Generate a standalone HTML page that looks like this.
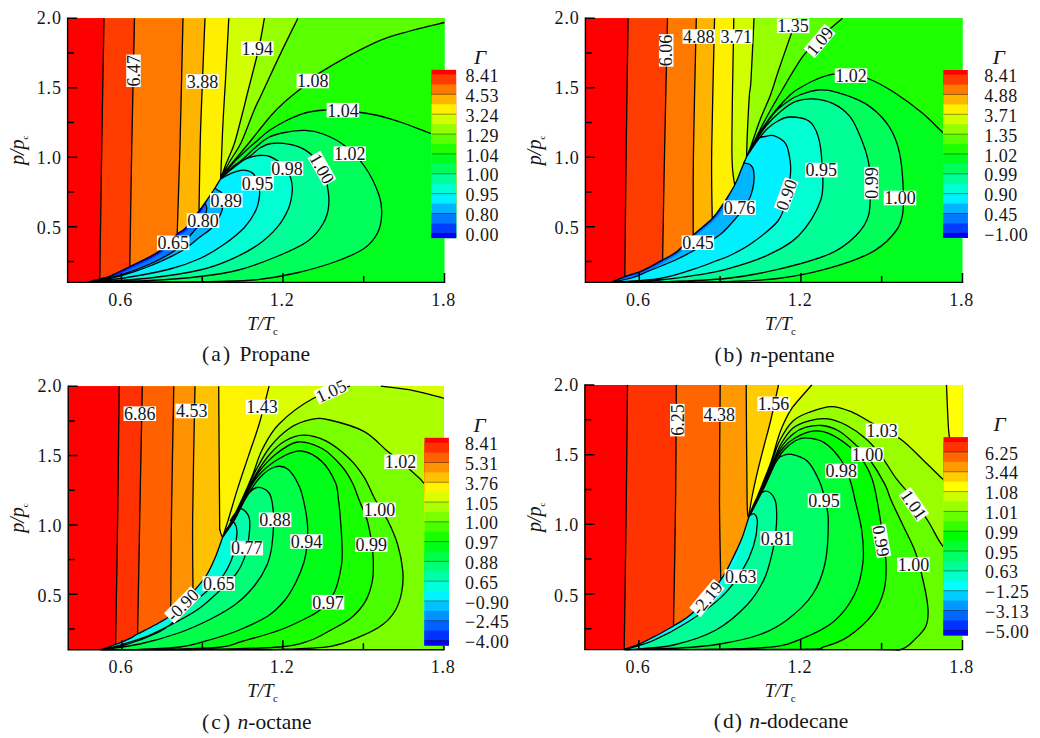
<!DOCTYPE html>
<html><head><meta charset="utf-8"><style>
html,body{margin:0;padding:0;background:#fff;}
svg{display:block;}
text{font-family:"Liberation Serif", serif;fill:#151515;}
</style></head><body>
<svg width="1040" height="738" viewBox="0 0 1040 738">
<g>
<rect x="67.6" y="18.2" width="376.9" height="264.2" fill="rgb(0,255,30)"/>
<path d="M67.6 18.2L444.5 18.2L444.5 137.5C442.25 136.83 438.42 136.08 431 133.5C423.58 130.92 409.27 125.08 400 122C390.73 118.92 385.4 117 375.4 115C365.4 113 348.4 110.83 340 110C331.6 109.17 330.83 109.5 325 110C319.17 110.5 311.25 111.33 305 113C298.75 114.67 293.33 117.17 287.5 120C281.67 122.83 275.2 126.42 270 130C264.8 133.58 260.3 138.08 256.3 141.5C252.3 144.92 249.38 147.42 246 150.5C242.62 153.58 239.08 156.75 236 160C232.92 163.25 230.08 166.83 227.5 170C224.92 173.17 221.67 177.5 220.5 179C219.58 180.5 216.92 185 215 188C213.08 191 211.67 193.17 209 197C206.33 200.83 202.9 205.85 199 211C195.1 216.15 189.23 224.07 185.6 227.9C181.97 231.73 181.67 230.07 177.2 234C172.73 237.93 166.7 246.08 158.8 251.5C150.9 256.92 137.93 262.4 129.8 266.5C121.67 270.6 115 274.02 110 276.1C105 278.18 103.7 277.95 99.8 279C95.9 280.05 88.8 281.83 86.6 282.4L67.6 282.4Z" fill="rgb(30,255,0)"/>
<path d="M67.6 18.2L444.5 18.2L444.5 22.5C438.75 23.92 421.58 27.65 410 31C398.42 34.35 390 35.67 375 42.6C360 49.53 332.28 65 320 72.6C307.72 80.2 306.83 83.63 301.3 88.2C295.77 92.77 291.77 95.53 286.8 100C281.83 104.47 277.75 107.92 271.5 115C265.25 122.08 255.25 135.21 249.3 142.5C243.35 149.79 239.6 154.17 235.8 158.75C232 163.33 229.05 166.62 226.5 170C223.95 173.38 221.5 177.5 220.5 179C219.58 180.5 216.92 185 215 188C213.08 191 211.67 193.17 209 197C206.33 200.83 202.9 205.85 199 211C195.1 216.15 189.23 224.07 185.6 227.9C181.97 231.73 181.67 230.07 177.2 234C172.73 237.93 166.7 246.08 158.8 251.5C150.9 256.92 137.93 262.4 129.8 266.5C121.67 270.6 115 274.02 110 276.1C105 278.18 103.7 277.95 99.8 279C95.9 280.05 88.8 281.83 86.6 282.4L67.6 282.4Z" fill="rgb(90,255,0)"/>
<path d="M67.6 18.2L297.9 18.2C294.85 24.43 285.71 42.8 279.6 55.6C273.49 68.4 265.48 85.93 261.25 95C257.02 104.07 257.54 102.08 254.2 110C250.86 117.92 245 134.38 241.2 142.5C237.4 150.62 234.02 154.33 231.4 158.75C228.78 163.17 227.32 165.62 225.5 169C223.68 172.38 221.33 177.33 220.5 179C219.58 180.5 216.92 185 215 188C213.08 191 211.67 193.17 209 197C206.33 200.83 202.9 205.85 199 211C195.1 216.15 189.23 224.07 185.6 227.9C181.97 231.73 181.67 230.07 177.2 234C172.73 237.93 166.7 246.08 158.8 251.5C150.9 256.92 137.93 262.4 129.8 266.5C121.67 270.6 115 274.02 110 276.1C105 278.18 103.7 277.95 99.8 279C95.9 280.05 88.8 281.83 86.6 282.4L67.6 282.4Z" fill="rgb(150,255,0)"/>
<path d="M67.6 18.2L264.4 18.2C263.43 23.33 261.5 36.2 258.6 49C255.7 61.8 249.55 84.83 247 95C244.45 105.17 245.35 102.08 243.3 110C241.25 117.92 237.22 134.38 234.7 142.5C232.18 150.62 229.9 154.5 228.2 158.75C226.5 163 225.78 164.62 224.5 168C223.22 171.38 221.17 177.17 220.5 179C219.58 180.5 216.92 185 215 188C213.08 191 211.67 193.17 209 197C206.33 200.83 202.9 205.85 199 211C195.1 216.15 189.23 224.07 185.6 227.9C181.97 231.73 181.67 230.07 177.2 234C172.73 237.93 166.7 246.08 158.8 251.5C150.9 256.92 137.93 262.4 129.8 266.5C121.67 270.6 115 274.02 110 276.1C105 278.18 103.7 277.95 99.8 279C95.9 280.05 88.8 281.83 86.6 282.4L67.6 282.4Z" fill="rgb(210,255,0)"/>
<path d="M67.6 18.2L228.8 18.2C228.25 28.5 226.4 63.87 225.5 80C224.6 96.13 223.95 105 223.4 115C222.85 125 222.6 130.83 222.2 140C221.8 149.17 221.28 163.5 221 170C220.72 176.5 220.58 177.5 220.5 179C219.58 180.5 216.92 185 215 188C213.08 191 211.67 193.17 209 197C206.33 200.83 202.9 205.85 199 211C195.1 216.15 189.23 224.07 185.6 227.9C181.97 231.73 181.67 230.07 177.2 234C172.73 237.93 166.7 246.08 158.8 251.5C150.9 256.92 137.93 262.4 129.8 266.5C121.67 270.6 115 274.02 110 276.1C105 278.18 103.7 277.95 99.8 279C95.9 280.05 88.8 281.83 86.6 282.4L67.6 282.4Z" fill="rgb(255,240,0)"/>
<path d="M67.6 18.2L205 18.2C204.58 28.5 203.28 59.7 202.5 80C201.72 100.3 200.88 118.17 200.3 140C199.72 161.83 199.22 199.17 199 211C195.1 216.15 189.23 224.07 185.6 227.9C181.97 231.73 181.67 230.07 177.2 234C172.73 237.93 166.7 246.08 158.8 251.5C150.9 256.92 137.93 262.4 129.8 266.5C121.67 270.6 115 274.02 110 276.1C105 278.18 103.7 277.95 99.8 279C95.9 280.05 88.8 281.83 86.6 282.4L67.6 282.4Z" fill="rgb(255,180,0)"/>
<path d="M67.6 18.2L183 18.2C182.48 40.17 180.87 114.03 179.9 150C178.93 185.97 177.65 220 177.2 234C172.73 237.93 166.7 246.08 158.8 251.5C150.9 256.92 137.93 262.4 129.8 266.5C121.67 270.6 115 274.02 110 276.1C105 278.18 103.7 277.95 99.8 279C95.9 280.05 88.8 281.83 86.6 282.4L67.6 282.4Z" fill="rgb(255,120,0)"/>
<path d="M67.6 18.2L134.5 18.2C134.03 40.17 132.48 108.62 131.7 150C130.92 191.38 130.12 247.08 129.8 266.5C121.67 270.6 115 274.02 110 276.1C105 278.18 103.7 277.95 99.8 279C95.9 280.05 88.8 281.83 86.6 282.4L67.6 282.4Z" fill="rgb(255,60,0)"/>
<path d="M67.6 18.2L104 18.2C103.62 40.17 102.4 106.53 101.7 150C101 193.47 100.12 257.5 99.8 279C95.9 280.05 88.8 281.83 86.6 282.4L67.6 282.4Z" fill="rgb(255,0,0)"/>
<path d="M220.5 179C221.83 177.67 224.7 174.38 228.5 171C232.3 167.62 238.72 162.75 243.3 158.75C247.88 154.75 251.82 150.54 256 147C260.18 143.46 263.63 139.92 268.4 137.5C273.17 135.08 278.5 133.68 284.6 132.5C290.7 131.32 298.6 130.15 305 130.4C311.4 130.65 316.54 131.57 323 134C329.46 136.43 336.75 139.5 343.75 145C350.75 150.5 359.12 158.67 365 167C370.88 175.33 376.22 187.13 379 195C381.78 202.87 381.95 207.87 381.7 214.2C381.45 220.53 380.45 227.28 377.5 233C374.55 238.72 371.15 243.67 364 248.5C356.85 253.33 345.9 257.92 334.6 262C323.3 266.08 309.02 270.07 296.2 273C283.38 275.93 270.53 278.2 257.7 279.6C244.87 281 237.15 280.98 219.2 281.4C201.25 281.82 172.1 281.93 150 282.1C127.9 282.27 97.17 282.35 86.6 282.4C88.8 281.83 95.9 280.05 99.8 279C103.7 277.95 105 278.18 110 276.1C115 274.02 121.67 270.6 129.8 266.5C137.93 262.4 150.9 256.92 158.8 251.5C166.7 246.08 172.73 237.93 177.2 234C181.67 230.07 181.97 231.73 185.6 227.9C189.23 224.07 195.1 216.15 199 211C202.9 205.85 206.33 200.83 209 197C211.67 193.17 213.08 191 215 188C216.92 185 219.58 180.5 220.5 179Z" fill="rgb(0,255,90)"/>
<path d="M220.5 179C222 177.67 226.08 173.83 229.5 171C232.92 168.17 237.43 164.58 241 162C244.57 159.42 247.73 157.83 250.9 155.5C254.07 153.17 256.65 150 260 148C263.35 146 266 144.1 271 143.5C276 142.9 284.33 143.33 290 144.4C295.67 145.47 300.33 146.97 305 149.9C309.67 152.83 314.5 156.98 318 162C321.5 167.02 324.2 172.9 326 180C327.8 187.1 329.3 197.3 328.8 204.6C328.3 211.9 326.52 217.7 323 223.8C319.48 229.9 315.38 235.75 307.7 241.2C300.02 246.65 288.43 251.7 276.9 256.5C265.37 261.3 251.32 266.67 238.5 270C225.68 273.33 214.75 274.75 200 276.5C185.25 278.25 168.9 279.52 150 280.5C131.1 281.48 97.17 282.08 86.6 282.4C88.8 281.83 95.9 280.05 99.8 279C103.7 277.95 105 278.18 110 276.1C115 274.02 121.67 270.6 129.8 266.5C137.93 262.4 150.9 256.92 158.8 251.5C166.7 246.08 172.73 237.93 177.2 234C181.67 230.07 181.97 231.73 185.6 227.9C189.23 224.07 195.1 216.15 199 211C202.9 205.85 206.33 200.83 209 197C211.67 193.17 213.08 191 215 188C216.92 185 219.58 180.5 220.5 179Z" fill="rgb(0,255,150)"/>
<path d="M220.5 179C221.58 177.92 224.45 174.97 227 172.5C229.55 170.03 232.53 166.49 235.8 164.2C239.07 161.91 242.82 160.2 246.6 158.75C250.38 157.3 254.6 155.86 258.5 155.5C262.4 155.14 265.75 154.85 270 156.6C274.25 158.35 280.6 162.6 284 166C287.4 169.4 289.02 173 290.4 177C291.78 181 292.62 184.75 292.3 190C291.98 195.25 291.07 202.22 288.5 208.5C285.93 214.78 282.03 221.62 276.9 227.7C271.77 233.78 265.72 239.55 257.7 245C249.68 250.45 238.42 256.23 228.8 260.4C219.18 264.57 213.13 267.07 200 270C186.87 272.93 168.9 275.93 150 278C131.1 280.07 97.17 281.67 86.6 282.4C88.8 281.83 95.9 280.05 99.8 279C103.7 277.95 105 278.18 110 276.1C115 274.02 121.67 270.6 129.8 266.5C137.93 262.4 150.9 256.92 158.8 251.5C166.7 246.08 172.73 237.93 177.2 234C181.67 230.07 181.97 231.73 185.6 227.9C189.23 224.07 195.1 216.15 199 211C202.9 205.85 206.33 200.83 209 197C211.67 193.17 213.08 191 215 188C216.92 185 219.58 180.5 220.5 179Z" fill="rgb(0,255,210)"/>
<path d="M220.5 179C221.42 178.5 224.03 177.02 226 176C227.97 174.98 229.55 173.87 232.3 172.9C235.05 171.93 239.33 170.32 242.5 170.2C245.67 170.08 249.13 171.07 251.3 172.2C253.47 173.33 254.3 174.7 255.5 177C256.7 179.3 257.82 183 258.5 186C259.18 189 260.05 190.93 259.6 195C259.15 199.07 258.37 204.95 255.8 210.4C253.23 215.85 249.65 221.93 244.2 227.7C238.75 233.47 230.47 239.87 223.1 245C215.73 250.13 208.85 254.5 200 258.5C191.15 262.5 181.67 265.92 170 269C158.33 272.08 143.9 274.77 130 277C116.1 279.23 93.83 281.5 86.6 282.4C88.8 281.83 95.9 280.05 99.8 279C103.7 277.95 105 278.18 110 276.1C115 274.02 121.67 270.6 129.8 266.5C137.93 262.4 150.9 256.92 158.8 251.5C166.7 246.08 172.73 237.93 177.2 234C181.67 230.07 181.97 231.73 185.6 227.9C189.23 224.07 195.1 216.15 199 211C202.9 205.85 206.33 200.83 209 197C211.67 193.17 213.08 191 215 188C216.92 185 219.58 180.5 220.5 179Z" fill="rgb(0,240,255)"/>
<path d="M215 188C215.5 188.42 216.92 189.75 218 190.5C219.08 191.25 220.6 190.92 221.5 192.5C222.4 194.08 223.23 197.42 223.4 200C223.57 202.58 222.98 205.6 222.5 208C222.02 210.4 222.08 211.28 220.5 214.4C218.92 217.52 216.63 222.75 213 226.7C209.37 230.65 203.93 234.05 198.7 238.1C193.47 242.15 189.72 246.35 181.6 251C173.48 255.65 160.27 261.83 150 266C139.73 270.17 130.57 273.27 120 276C109.43 278.73 92.17 281.33 86.6 282.4C88.8 281.83 95.9 280.05 99.8 279C103.7 277.95 105 278.18 110 276.1C115 274.02 121.67 270.6 129.8 266.5C137.93 262.4 150.9 256.92 158.8 251.5C166.7 246.08 172.73 237.93 177.2 234C181.67 230.07 181.97 231.73 185.6 227.9C189.23 224.07 195.1 216.15 199 211C202.9 205.85 206.33 200.83 209 197C211.67 193.17 213.08 191 215 188Z" fill="rgb(0,180,255)"/>
<path d="M205 203.5C205.25 204.08 206.28 205.58 206.5 207C206.72 208.42 206.88 209.83 206.3 212C205.72 214.17 204.58 217.38 203 220C201.42 222.62 201.15 222.87 196.8 227.7C192.45 232.53 184.7 242.95 176.9 249C169.1 255.05 159.48 259.67 150 264C140.52 268.33 130.57 271.93 120 275C109.43 278.07 92.17 281.17 86.6 282.4C88.8 281.83 95.9 280.05 99.8 279C103.7 277.95 105 278.18 110 276.1C115 274.02 121.67 270.6 129.8 266.5C137.93 262.4 150.9 256.92 158.8 251.5C166.7 246.08 172.73 237.93 177.2 234C181.67 230.07 181.97 231.73 185.6 227.9C189.23 224.07 195.1 216.15 199 211C202.9 205.85 206.33 200.83 209 197Z" fill="rgb(0,120,255)"/>
<path d="M209 197C207.68 199.59 204.66 207.12 201.07 212.57C197.49 218.02 191.18 225.79 187.49 229.69C183.79 233.59 183.45 231.96 178.92 235.95C174.38 239.94 168.26 248.17 160.27 253.64C152.28 259.12 139.18 264.68 130.97 268.82C122.76 272.96 116.08 276.39 111 278.5C105.92 280.61 104.54 280.86 100.48 281.51C96.41 282.16 88.91 282.25 86.6 282.4C88.8 281.83 95.9 280.05 99.8 279C103.7 277.95 105 278.18 110 276.1C115 274.02 121.67 270.6 129.8 266.5C137.93 262.4 150.9 256.92 158.8 251.5C166.7 246.08 172.73 237.93 177.2 234C181.67 230.07 181.97 231.73 185.6 227.9C189.23 224.07 195.1 216.15 199 211C202.9 205.85 206.33 200.83 209 197Z" fill="rgb(0,60,255)"/>
<path d="M209 197C207.49 199.45 203.71 206.44 199.96 211.72C196.2 217.01 190.13 224.86 186.47 228.73C182.81 232.59 182.49 230.94 177.99 234.9C173.49 238.86 167.42 247.04 159.48 252.49C151.54 257.93 138.51 263.45 130.34 267.57C122.17 271.69 115.5 275.11 110.46 277.21C105.42 279.31 104.09 279.29 100.11 280.16C96.14 281.02 88.85 282.03 86.6 282.4C88.8 281.83 95.9 280.05 99.8 279C103.7 277.95 105 278.18 110 276.1C115 274.02 121.67 270.6 129.8 266.5C137.93 262.4 150.9 256.92 158.8 251.5C166.7 246.08 172.73 237.93 177.2 234C181.67 230.07 181.97 231.73 185.6 227.9C189.23 224.07 195.1 216.15 199 211C202.9 205.85 206.33 200.83 209 197Z" fill="rgb(0,0,255)"/>
<path d="M444.5 137.5C442.25 136.83 438.42 136.08 431 133.5C423.58 130.92 409.27 125.08 400 122C390.73 118.92 385.4 117 375.4 115C365.4 113 348.4 110.83 340 110C331.6 109.17 330.83 109.5 325 110C319.17 110.5 311.25 111.33 305 113C298.75 114.67 293.33 117.17 287.5 120C281.67 122.83 275.2 126.42 270 130C264.8 133.58 260.3 138.08 256.3 141.5C252.3 144.92 249.38 147.42 246 150.5C242.62 153.58 239.08 156.75 236 160C232.92 163.25 230.08 166.83 227.5 170C224.92 173.17 221.67 177.5 220.5 179M444.5 22.5C438.75 23.92 421.58 27.65 410 31C398.42 34.35 390 35.67 375 42.6C360 49.53 332.28 65 320 72.6C307.72 80.2 306.83 83.63 301.3 88.2C295.77 92.77 291.77 95.53 286.8 100C281.83 104.47 277.75 107.92 271.5 115C265.25 122.08 255.25 135.21 249.3 142.5C243.35 149.79 239.6 154.17 235.8 158.75C232 163.33 229.05 166.62 226.5 170C223.95 173.38 221.5 177.5 220.5 179M297.9 18.2C294.85 24.43 285.71 42.8 279.6 55.6C273.49 68.4 265.48 85.93 261.25 95C257.02 104.07 257.54 102.08 254.2 110C250.86 117.92 245 134.38 241.2 142.5C237.4 150.62 234.02 154.33 231.4 158.75C228.78 163.17 227.32 165.62 225.5 169C223.68 172.38 221.33 177.33 220.5 179M264.4 18.2C263.43 23.33 261.5 36.2 258.6 49C255.7 61.8 249.55 84.83 247 95C244.45 105.17 245.35 102.08 243.3 110C241.25 117.92 237.22 134.38 234.7 142.5C232.18 150.62 229.9 154.5 228.2 158.75C226.5 163 225.78 164.62 224.5 168C223.22 171.38 221.17 177.17 220.5 179M228.8 18.2C228.25 28.5 226.4 63.87 225.5 80C224.6 96.13 223.95 105 223.4 115C222.85 125 222.6 130.83 222.2 140C221.8 149.17 221.28 163.5 221 170C220.72 176.5 220.58 177.5 220.5 179M205 18.2C204.58 28.5 203.28 59.7 202.5 80C201.72 100.3 200.88 118.17 200.3 140C199.72 161.83 199.22 199.17 199 211M183 18.2C182.48 40.17 180.87 114.03 179.9 150C178.93 185.97 177.65 220 177.2 234M134.5 18.2C134.03 40.17 132.48 108.62 131.7 150C130.92 191.38 130.12 247.08 129.8 266.5M104 18.2C103.62 40.17 102.4 106.53 101.7 150C101 193.47 100.12 257.5 99.8 279M220.5 179C221.83 177.67 224.7 174.38 228.5 171C232.3 167.62 238.72 162.75 243.3 158.75C247.88 154.75 251.82 150.54 256 147C260.18 143.46 263.63 139.92 268.4 137.5C273.17 135.08 278.5 133.68 284.6 132.5C290.7 131.32 298.6 130.15 305 130.4C311.4 130.65 316.54 131.57 323 134C329.46 136.43 336.75 139.5 343.75 145C350.75 150.5 359.12 158.67 365 167C370.88 175.33 376.22 187.13 379 195C381.78 202.87 381.95 207.87 381.7 214.2C381.45 220.53 380.45 227.28 377.5 233C374.55 238.72 371.15 243.67 364 248.5C356.85 253.33 345.9 257.92 334.6 262C323.3 266.08 309.02 270.07 296.2 273C283.38 275.93 270.53 278.2 257.7 279.6C244.87 281 237.15 280.98 219.2 281.4C201.25 281.82 172.1 281.93 150 282.1C127.9 282.27 97.17 282.35 86.6 282.4M220.5 179C222 177.67 226.08 173.83 229.5 171C232.92 168.17 237.43 164.58 241 162C244.57 159.42 247.73 157.83 250.9 155.5C254.07 153.17 256.65 150 260 148C263.35 146 266 144.1 271 143.5C276 142.9 284.33 143.33 290 144.4C295.67 145.47 300.33 146.97 305 149.9C309.67 152.83 314.5 156.98 318 162C321.5 167.02 324.2 172.9 326 180C327.8 187.1 329.3 197.3 328.8 204.6C328.3 211.9 326.52 217.7 323 223.8C319.48 229.9 315.38 235.75 307.7 241.2C300.02 246.65 288.43 251.7 276.9 256.5C265.37 261.3 251.32 266.67 238.5 270C225.68 273.33 214.75 274.75 200 276.5C185.25 278.25 168.9 279.52 150 280.5C131.1 281.48 97.17 282.08 86.6 282.4M220.5 179C221.58 177.92 224.45 174.97 227 172.5C229.55 170.03 232.53 166.49 235.8 164.2C239.07 161.91 242.82 160.2 246.6 158.75C250.38 157.3 254.6 155.86 258.5 155.5C262.4 155.14 265.75 154.85 270 156.6C274.25 158.35 280.6 162.6 284 166C287.4 169.4 289.02 173 290.4 177C291.78 181 292.62 184.75 292.3 190C291.98 195.25 291.07 202.22 288.5 208.5C285.93 214.78 282.03 221.62 276.9 227.7C271.77 233.78 265.72 239.55 257.7 245C249.68 250.45 238.42 256.23 228.8 260.4C219.18 264.57 213.13 267.07 200 270C186.87 272.93 168.9 275.93 150 278C131.1 280.07 97.17 281.67 86.6 282.4M220.5 179C221.42 178.5 224.03 177.02 226 176C227.97 174.98 229.55 173.87 232.3 172.9C235.05 171.93 239.33 170.32 242.5 170.2C245.67 170.08 249.13 171.07 251.3 172.2C253.47 173.33 254.3 174.7 255.5 177C256.7 179.3 257.82 183 258.5 186C259.18 189 260.05 190.93 259.6 195C259.15 199.07 258.37 204.95 255.8 210.4C253.23 215.85 249.65 221.93 244.2 227.7C238.75 233.47 230.47 239.87 223.1 245C215.73 250.13 208.85 254.5 200 258.5C191.15 262.5 181.67 265.92 170 269C158.33 272.08 143.9 274.77 130 277C116.1 279.23 93.83 281.5 86.6 282.4M215 188C215.5 188.42 216.92 189.75 218 190.5C219.08 191.25 220.6 190.92 221.5 192.5C222.4 194.08 223.23 197.42 223.4 200C223.57 202.58 222.98 205.6 222.5 208C222.02 210.4 222.08 211.28 220.5 214.4C218.92 217.52 216.63 222.75 213 226.7C209.37 230.65 203.93 234.05 198.7 238.1C193.47 242.15 189.72 246.35 181.6 251C173.48 255.65 160.27 261.83 150 266C139.73 270.17 130.57 273.27 120 276C109.43 278.73 92.17 281.33 86.6 282.4M205 203.5C205.25 204.08 206.28 205.58 206.5 207C206.72 208.42 206.88 209.83 206.3 212C205.72 214.17 204.58 217.38 203 220C201.42 222.62 201.15 222.87 196.8 227.7C192.45 232.53 184.7 242.95 176.9 249C169.1 255.05 159.48 259.67 150 264C140.52 268.33 130.57 271.93 120 275C109.43 278.07 92.17 281.17 86.6 282.4M86.6 282.4C88.8 281.83 95.9 280.05 99.8 279C103.7 277.95 105 278.18 110 276.1C115 274.02 121.67 270.6 129.8 266.5C137.93 262.4 150.9 256.92 158.8 251.5C166.7 246.08 172.73 237.93 177.2 234C181.67 230.07 181.97 231.73 185.6 227.9C189.23 224.07 195.1 216.15 199 211C202.9 205.85 206.33 200.83 209 197C211.67 193.17 213.08 191 215 188C216.92 185 219.58 180.5 220.5 179" fill="none" stroke="#000" stroke-width="1.3" stroke-linejoin="round"/>
<g transform="rotate(-90 133.5 70.8)"><rect x="117.25" y="63.5" width="32.5" height="14.6" fill="#fff"/><text x="133.5" y="77.1" text-anchor="middle" font-size="18">6.47</text></g>
<g><rect x="186.15" y="74.2" width="32.5" height="14.6" fill="#fff"/><text x="202.4" y="87.8" text-anchor="middle" font-size="18">3.88</text></g>
<g><rect x="241.05" y="41.2" width="32.5" height="14.6" fill="#fff"/><text x="257.3" y="54.8" text-anchor="middle" font-size="18">1.94</text></g>
<g><rect x="296.55" y="73.7" width="32.5" height="14.6" fill="#fff"/><text x="312.8" y="87.3" text-anchor="middle" font-size="18">1.08</text></g>
<g><rect x="326.65" y="102.9" width="32.5" height="14.6" fill="#fff"/><text x="342.9" y="116.5" text-anchor="middle" font-size="18">1.04</text></g>
<g><rect x="333.45" y="146.4" width="32.5" height="14.6" fill="#fff"/><text x="349.7" y="160" text-anchor="middle" font-size="18">1.02</text></g>
<g transform="rotate(60 322 168.5)"><rect x="305.75" y="161.2" width="32.5" height="14.6" fill="#fff"/><text x="322" y="174.8" text-anchor="middle" font-size="18">1.00</text></g>
<g><rect x="270.75" y="161.2" width="32.5" height="14.6" fill="#fff"/><text x="287" y="174.8" text-anchor="middle" font-size="18">0.98</text></g>
<g><rect x="241.35" y="175.9" width="32.5" height="14.6" fill="#fff"/><text x="257.6" y="189.5" text-anchor="middle" font-size="18">0.95</text></g>
<g><rect x="210.05" y="193" width="32.5" height="14.6" fill="#fff"/><text x="226.3" y="206.6" text-anchor="middle" font-size="18">0.89</text></g>
<g><rect x="186.75" y="213.3" width="32.5" height="14.6" fill="#fff"/><text x="203" y="226.9" text-anchor="middle" font-size="18">0.80</text></g>
<g><rect x="156.95" y="235.6" width="32.5" height="14.6" fill="#fff"/><text x="173.2" y="249.2" text-anchor="middle" font-size="18">0.65</text></g>
<path d="M67.6 18.2H77.1M67.6 52.96H74.1M67.6 87.73H77.1M67.6 122.49H74.1M67.6 157.25H77.1M67.6 192.02H74.1M67.6 226.78H77.1M67.6 261.54H74.1M121.44 282.4V272.9M202.21 282.4V275.9M282.97 282.4V272.9M363.74 282.4V275.9M444.5 282.4V272.9" stroke="#000" stroke-width="1.5" fill="none"/>
<path d="M67.6 17.5V282.4H445.2" fill="none" stroke="#000" stroke-width="1.4"/>
<text x="61.7" y="24.2" text-anchor="end" font-size="18" letter-spacing="0.8">2.0</text>
<text x="61.7" y="94.29" text-anchor="end" font-size="18" letter-spacing="0.8">1.5</text>
<text x="61.7" y="164.38" text-anchor="end" font-size="18" letter-spacing="0.8">1.0</text>
<text x="61.7" y="234.47" text-anchor="end" font-size="18" letter-spacing="0.8">0.5</text>
<text x="120.64" y="305.9" text-anchor="middle" font-size="18" letter-spacing="0.8">0.6</text>
<text x="282.17" y="305.9" text-anchor="middle" font-size="18" letter-spacing="0.8">1.2</text>
<text x="443.7" y="305.9" text-anchor="middle" font-size="18" letter-spacing="0.8">1.8</text>
<rect x="431.5" y="69.8" width="24.6" height="168.24" fill="rgb(255,0,0)"/>
<rect x="431.5" y="74.43" width="24.6" height="163.61" fill="rgb(255,60,0)"/>
<rect x="431.5" y="84.37" width="24.6" height="153.67" fill="rgb(255,120,0)"/>
<rect x="431.5" y="94.3" width="24.6" height="143.73" fill="rgb(255,180,0)"/>
<rect x="431.5" y="104.24" width="24.6" height="133.8" fill="rgb(255,240,0)"/>
<rect x="431.5" y="114.17" width="24.6" height="123.86" fill="rgb(210,255,0)"/>
<rect x="431.5" y="124.11" width="24.6" height="113.93" fill="rgb(150,255,0)"/>
<rect x="431.5" y="134.05" width="24.6" height="103.99" fill="rgb(90,255,0)"/>
<rect x="431.5" y="143.98" width="24.6" height="94.05" fill="rgb(30,255,0)"/>
<rect x="431.5" y="153.92" width="24.6" height="84.12" fill="rgb(0,255,30)"/>
<rect x="431.5" y="163.85" width="24.6" height="74.18" fill="rgb(0,255,90)"/>
<rect x="431.5" y="173.79" width="24.6" height="64.25" fill="rgb(0,255,150)"/>
<rect x="431.5" y="183.73" width="24.6" height="54.31" fill="rgb(0,255,210)"/>
<rect x="431.5" y="193.66" width="24.6" height="44.37" fill="rgb(0,240,255)"/>
<rect x="431.5" y="203.6" width="24.6" height="34.44" fill="rgb(0,180,255)"/>
<rect x="431.5" y="213.53" width="24.6" height="24.5" fill="rgb(0,120,255)"/>
<rect x="431.5" y="223.47" width="24.6" height="14.57" fill="rgb(0,60,255)"/>
<rect x="431.5" y="233.41" width="24.6" height="4.63" fill="rgb(0,0,255)"/>
<path d="M431.5 94.3h24.6M431.5 114.17h24.6M431.5 134.05h24.6M431.5 153.92h24.6M431.5 173.79h24.6M431.5 193.66h24.6M431.5 213.53h24.6M431.5 233.41h24.6" stroke="#000" stroke-opacity="0.5" stroke-width="0.8"/>
<text x="465.4" y="82.03" font-size="18" letter-spacing="0.5">8.41</text>
<text x="465.4" y="101.9" font-size="18" letter-spacing="0.5">4.53</text>
<text x="465.4" y="121.77" font-size="18" letter-spacing="0.5">3.24</text>
<text x="465.4" y="141.65" font-size="18" letter-spacing="0.5">1.29</text>
<text x="465.4" y="161.52" font-size="18" letter-spacing="0.5">1.04</text>
<text x="465.4" y="181.39" font-size="18" letter-spacing="0.5">1.00</text>
<text x="465.4" y="201.26" font-size="18" letter-spacing="0.5">0.95</text>
<text x="465.4" y="221.13" font-size="18" letter-spacing="0.5">0.80</text>
<text x="465.4" y="241.01" font-size="18" letter-spacing="0.5">0.00</text>
<text transform="translate(474 63.5) scale(1.15 1)" font-size="18.5" font-style="italic">&#915;</text>
<text x="262.55" y="329.6" text-anchor="middle" font-size="19" font-style="italic">T/T<tspan font-size="11" font-style="normal" dx="-0.5" dy="5">c</tspan></text>
<text transform="translate(23.6 150.3) rotate(-90)" text-anchor="middle" font-size="20" font-style="italic">p/p<tspan font-size="9" font-style="normal" dy="4">c</tspan></text>
<text y="361" font-size="21.5"><tspan x="202">(</tspan><tspan x="211.2">a</tspan><tspan x="223">)</tspan><tspan x="239.5">Propane</tspan></text>
</g>
<g>
<rect x="585.4" y="18.3" width="377.1" height="264.1" fill="rgb(0,255,30)"/>
<path d="M585.4 18.3L962.5 18.3L962.5 150C959.28 147.17 949.9 139.15 943.2 133C936.5 126.85 930.52 119.88 922.3 113.1C914.08 106.32 902.75 97.98 893.9 92.3C885.05 86.62 876.35 81.88 869.2 79C862.05 76.12 857.02 75.8 851 75C844.98 74.2 839.1 73.37 833.1 74.2C827.1 75.03 820.68 77.62 815 80C809.32 82.38 803.17 86 799 88.5C794.83 91 793.83 91.42 790 95C786.17 98.58 780.33 104.83 776 110C771.67 115.17 767.83 120.33 764 126C760.17 131.67 755.92 138.83 753 144C750.08 149.17 747.58 154.83 746.5 157C745.58 159.17 742.97 165.33 741 170C739.03 174.67 737.7 179.33 734.7 185C731.7 190.67 726.75 198.42 723 204C719.25 209.58 717.17 213.33 712.2 218.5C707.23 223.67 698.97 229.58 693.2 235C687.43 240.42 682.7 246.85 677.6 251C672.5 255.15 668.37 256.68 662.6 259.9C656.83 263.12 649.3 267.52 643 270.3C636.7 273.08 630.22 274.6 624.8 276.6C619.38 278.6 612.88 281.35 610.5 282.3L585.4 282.4Z" fill="rgb(30,255,0)"/>
<path d="M585.4 18.3L842.4 18.3C838.67 21.58 826.63 31.6 820 38C813.37 44.4 809.4 47.2 802.6 56.7C795.8 66.2 785.63 84.12 779.2 95C772.77 105.88 768.2 114.17 764 122C759.8 129.83 756.92 136.17 754 142C751.08 147.83 747.75 154.5 746.5 157C745.58 159.17 742.97 165.33 741 170C739.03 174.67 737.7 179.33 734.7 185C731.7 190.67 726.75 198.42 723 204C719.25 209.58 717.17 213.33 712.2 218.5C707.23 223.67 698.97 229.58 693.2 235C687.43 240.42 682.7 246.85 677.6 251C672.5 255.15 668.37 256.68 662.6 259.9C656.83 263.12 649.3 267.52 643 270.3C636.7 273.08 630.22 274.6 624.8 276.6C619.38 278.6 612.88 281.35 610.5 282.3L585.4 282.4Z" fill="rgb(90,255,0)"/>
<path d="M585.4 18.3L797 18.3C796.03 20.92 794.37 25.05 791.2 34C788.03 42.95 781.45 61.83 778 72C774.55 82.17 773.5 87 770.5 95C767.5 103 763.25 111.5 760 120C756.75 128.5 753.25 139.83 751 146C748.75 152.17 747.25 155.17 746.5 157C745.58 159.17 742.97 165.33 741 170C739.03 174.67 737.7 179.33 734.7 185C731.7 190.67 726.75 198.42 723 204C719.25 209.58 717.17 213.33 712.2 218.5C707.23 223.67 698.97 229.58 693.2 235C687.43 240.42 682.7 246.85 677.6 251C672.5 255.15 668.37 256.68 662.6 259.9C656.83 263.12 649.3 267.52 643 270.3C636.7 273.08 630.22 274.6 624.8 276.6C619.38 278.6 612.88 281.35 610.5 282.3L585.4 282.4Z" fill="rgb(150,255,0)"/>
<path d="M585.4 18.3L754 18.3C753.5 28.58 751.77 67.22 751 80C750.23 92.78 749.98 86.67 749.4 95C748.82 103.33 747.98 119.67 747.5 130C747.02 140.33 746.67 152.5 746.5 157C745.58 159.17 742.97 165.33 741 170C739.03 174.67 737.7 179.33 734.7 185C731.7 190.67 726.75 198.42 723 204C719.25 209.58 717.17 213.33 712.2 218.5C707.23 223.67 698.97 229.58 693.2 235C687.43 240.42 682.7 246.85 677.6 251C672.5 255.15 668.37 256.68 662.6 259.9C656.83 263.12 649.3 267.52 643 270.3C636.7 273.08 630.22 274.6 624.8 276.6C619.38 278.6 612.88 281.35 610.5 282.3L585.4 282.4Z" fill="rgb(210,255,0)"/>
<path d="M585.4 18.3L733.8 18.3C733.48 40.25 731.75 122.22 731.9 150C732.05 177.78 734.23 179.17 734.7 185C731.7 190.67 726.75 198.42 723 204C719.25 209.58 717.17 213.33 712.2 218.5C707.23 223.67 698.97 229.58 693.2 235C687.43 240.42 682.7 246.85 677.6 251C672.5 255.15 668.37 256.68 662.6 259.9C656.83 263.12 649.3 267.52 643 270.3C636.7 273.08 630.22 274.6 624.8 276.6C619.38 278.6 612.88 281.35 610.5 282.3L585.4 282.4Z" fill="rgb(255,240,0)"/>
<path d="M585.4 18.3L714.6 18.3C714.12 40.25 712.1 116.63 711.7 150C711.3 183.37 712.12 207.08 712.2 218.5C707.23 223.67 698.97 229.58 693.2 235C687.43 240.42 682.7 246.85 677.6 251C672.5 255.15 668.37 256.68 662.6 259.9C656.83 263.12 649.3 267.52 643 270.3C636.7 273.08 630.22 274.6 624.8 276.6C619.38 278.6 612.88 281.35 610.5 282.3L585.4 282.4Z" fill="rgb(255,180,0)"/>
<path d="M585.4 18.3L696.3 18.3C695.83 40.25 694.02 113.88 693.5 150C692.98 186.12 693.25 220.83 693.2 235C687.43 240.42 682.7 246.85 677.6 251C672.5 255.15 668.37 256.68 662.6 259.9C656.83 263.12 649.3 267.52 643 270.3C636.7 273.08 630.22 274.6 624.8 276.6C619.38 278.6 612.88 281.35 610.5 282.3L585.4 282.4Z" fill="rgb(255,120,0)"/>
<path d="M585.4 18.3L667.5 18.3C667.02 40.25 665.42 109.73 664.6 150C663.78 190.27 662.93 241.58 662.6 259.9C656.83 263.12 649.3 267.52 643 270.3C636.7 273.08 630.22 274.6 624.8 276.6C619.38 278.6 612.88 281.35 610.5 282.3L585.4 282.4Z" fill="rgb(255,60,0)"/>
<path d="M585.4 18.3L628.1 18.3C627.78 40.25 626.75 106.95 626.2 150C625.65 193.05 625.03 255.5 624.8 276.6C619.38 278.6 612.88 281.35 610.5 282.3L585.4 282.4Z" fill="rgb(255,0,0)"/>
<path d="M746.5 157C747.58 155 750.08 150 753 145C755.92 140 760.17 132.67 764 127C767.83 121.33 771.67 115.5 776 111C780.33 106.5 786.03 102.67 790 100C793.97 97.33 795.13 96.67 799.8 95C804.47 93.33 811.8 90.45 818 90C824.2 89.55 829.1 90.03 837 92.3C844.9 94.57 857.18 98.55 865.4 103.6C873.62 108.65 880.93 115.63 886.3 122.6C891.67 129.57 894.9 136.5 897.6 145.4C900.3 154.3 901.68 164.42 902.5 176C903.32 187.58 904.23 204.95 902.5 214.9C900.77 224.85 897.73 229.22 892.1 235.7C886.47 242.18 879.95 248.18 868.7 253.8C857.45 259.42 839.73 265.28 824.6 269.4C809.47 273.52 794.33 276.47 777.9 278.5C761.47 280.53 745.65 280.98 726 281.6C706.35 282.22 679.25 282.08 660 282.2C640.75 282.32 618.75 282.28 610.5 282.3C612.88 281.35 619.38 278.6 624.8 276.6C630.22 274.6 636.7 273.08 643 270.3C649.3 267.52 656.83 263.12 662.6 259.9C668.37 256.68 672.5 255.15 677.6 251C682.7 246.85 687.43 240.42 693.2 235C698.97 229.58 707.23 223.67 712.2 218.5C717.17 213.33 719.25 209.58 723 204C726.75 198.42 731.7 190.67 734.7 185C737.7 179.33 739.03 174.67 741 170C742.97 165.33 745.58 159.17 746.5 157Z" fill="rgb(0,255,90)"/>
<path d="M746.5 157C747.75 154.83 750.75 149.17 754 144C757.25 138.83 761.67 131.33 766 126C770.33 120.67 775.13 116.05 780 112C784.87 107.95 789.82 103.88 795.2 101.7C800.58 99.52 805.98 98.58 812.3 98.9C818.62 99.22 826.78 100.6 833.1 103.6C839.42 106.6 845.45 110.88 850.2 116.9C854.95 122.92 858.6 132.42 861.6 139.7C864.6 146.98 866.8 153.88 868.2 160.6C869.6 167.32 869.92 170.95 870 180C870.08 189.05 871.07 205.62 868.7 214.9C866.33 224.18 862.28 229.22 855.8 235.7C849.32 242.18 842.78 248.18 829.8 253.8C816.82 259.42 795.2 265.28 777.9 269.4C760.6 273.52 745.65 276.43 726 278.5C706.35 280.57 679.25 281.17 660 281.8C640.75 282.43 618.75 282.22 610.5 282.3C612.88 281.35 619.38 278.6 624.8 276.6C630.22 274.6 636.7 273.08 643 270.3C649.3 267.52 656.83 263.12 662.6 259.9C668.37 256.68 672.5 255.15 677.6 251C682.7 246.85 687.43 240.42 693.2 235C698.97 229.58 707.23 223.67 712.2 218.5C717.17 213.33 719.25 209.58 723 204C726.75 198.42 731.7 190.67 734.7 185C737.7 179.33 739.03 174.67 741 170C742.97 165.33 745.58 159.17 746.5 157Z" fill="rgb(0,255,150)"/>
<path d="M746.5 157C747.92 154.83 751.58 148.67 755 144C758.42 139.33 763.17 132.83 767 129C770.83 125.17 774.25 123 778 121C781.75 119 784.42 117.05 789.5 117C794.58 116.95 803.75 117.55 808.5 120.7C813.25 123.85 815.75 128.68 818 135.9C820.25 143.12 821.53 153.32 822 164C822.47 174.68 824.7 188.05 820.8 200C816.9 211.95 807.92 226.3 798.6 235.7C789.28 245.1 777 250.78 764.9 256.4C752.8 262.02 736.82 266.37 726 269.4C715.18 272.43 711 272.83 700 274.6C689 276.37 674.92 278.72 660 280C645.08 281.28 618.75 281.92 610.5 282.3C612.88 281.35 619.38 278.6 624.8 276.6C630.22 274.6 636.7 273.08 643 270.3C649.3 267.52 656.83 263.12 662.6 259.9C668.37 256.68 672.5 255.15 677.6 251C682.7 246.85 687.43 240.42 693.2 235C698.97 229.58 707.23 223.67 712.2 218.5C717.17 213.33 719.25 209.58 723 204C726.75 198.42 731.7 190.67 734.7 185C737.7 179.33 739.03 174.67 741 170C742.97 165.33 745.58 159.17 746.5 157Z" fill="rgb(0,255,210)"/>
<path d="M746.5 157C748.33 154.08 754.42 142.92 757.5 139.5C760.58 136.08 762.28 137.13 765 136.5C767.72 135.87 770.35 134.48 773.8 135.7C777.25 136.92 783 139.75 785.7 143.8C788.4 147.85 789.22 154.8 790 160C790.78 165.2 791.07 168.33 790.4 175C789.73 181.67 788.08 192.33 786 200C783.92 207.67 783.57 213.83 777.9 221C772.23 228.17 759.98 237.25 752 243C744.02 248.75 736.07 252.5 730 255.5C723.93 258.5 720.6 259.08 715.6 261C710.6 262.92 709.27 264.08 700 267C690.73 269.92 674.92 275.95 660 278.5C645.08 281.05 618.75 281.67 610.5 282.3C612.88 281.35 619.38 278.6 624.8 276.6C630.22 274.6 636.7 273.08 643 270.3C649.3 267.52 656.83 263.12 662.6 259.9C668.37 256.68 672.5 255.15 677.6 251C682.7 246.85 687.43 240.42 693.2 235C698.97 229.58 707.23 223.67 712.2 218.5C717.17 213.33 719.25 209.58 723 204C726.75 198.42 731.7 190.67 734.7 185C737.7 179.33 739.03 174.67 741 170C742.97 165.33 745.58 159.17 746.5 157Z" fill="rgb(0,240,255)"/>
<path d="M743 163C744.17 163.23 748.22 163.07 750 164.4C751.78 165.73 753.2 167.1 753.7 171C754.2 174.9 754.13 182.3 753 187.8C751.87 193.3 749.73 198.97 746.9 204C744.07 209.03 740.35 213 736 218C731.65 223 726.8 229.17 720.8 234C714.8 238.83 707.2 242.83 700 247C692.8 251.17 686.13 255 677.6 259C669.07 263 656.48 267.83 648.8 271C641.12 274.17 637.88 276.12 631.5 278C625.12 279.88 614 281.58 610.5 282.3C612.88 281.35 619.38 278.6 624.8 276.6C630.22 274.6 636.7 273.08 643 270.3C649.3 267.52 656.83 263.12 662.6 259.9C668.37 256.68 672.5 255.15 677.6 251C682.7 246.85 687.43 240.42 693.2 235C698.97 229.58 707.23 223.67 712.2 218.5C717.17 213.33 719.25 209.58 723 204C726.75 198.42 731.7 190.67 734.7 185C737.7 179.33 739.03 174.67 741 170C742.97 165.33 745.58 159.17 746.5 157Z" fill="rgb(0,180,255)"/>
<path d="M734.7 185C733.11 188.41 728.6 199.57 725.16 205.45C721.72 211.33 719.1 215.06 714.07 220.3C709.04 225.54 700.79 231.44 694.98 236.9C689.17 242.35 684.43 248.8 679.24 253.02C674.06 257.23 669.73 258.89 663.87 262.17C658 265.45 650.41 269.87 644.05 272.68C637.69 275.49 631.29 277.44 625.7 279.04C620.11 280.64 613.03 281.76 610.5 282.3C612.88 281.35 619.38 278.6 624.8 276.6C630.22 274.6 636.7 273.08 643 270.3C649.3 267.52 656.83 263.12 662.6 259.9C668.37 256.68 672.5 255.15 677.6 251C682.7 246.85 687.43 240.42 693.2 235C698.97 229.58 707.23 223.67 712.2 218.5C717.17 213.33 719.25 209.58 723 204C726.75 198.42 731.7 190.67 734.7 185Z" fill="rgb(0,120,255)"/>
<path d="M734.7 185C732.92 188.28 727.6 198.95 724 204.67C720.39 210.39 718.06 214.13 713.07 219.33C708.07 224.53 699.81 230.44 694.02 235.87C688.24 241.31 683.5 247.75 678.36 251.93C673.22 256.11 669 257.7 663.18 260.95C657.37 264.19 649.81 268.6 643.48 271.4C637.16 274.19 630.71 275.91 625.22 277.73C619.72 279.54 612.95 281.54 610.5 282.3C612.88 281.35 619.38 278.6 624.8 276.6C630.22 274.6 636.7 273.08 643 270.3C649.3 267.52 656.83 263.12 662.6 259.9C668.37 256.68 672.5 255.15 677.6 251C682.7 246.85 687.43 240.42 693.2 235C698.97 229.58 707.23 223.67 712.2 218.5C717.17 213.33 719.25 209.58 723 204C726.75 198.42 731.7 190.67 734.7 185Z" fill="rgb(0,60,255)"/>
<path d="M962.5 150C959.28 147.17 949.9 139.15 943.2 133C936.5 126.85 930.52 119.88 922.3 113.1C914.08 106.32 902.75 97.98 893.9 92.3C885.05 86.62 876.35 81.88 869.2 79C862.05 76.12 857.02 75.8 851 75C844.98 74.2 839.1 73.37 833.1 74.2C827.1 75.03 820.68 77.62 815 80C809.32 82.38 803.17 86 799 88.5C794.83 91 793.83 91.42 790 95C786.17 98.58 780.33 104.83 776 110C771.67 115.17 767.83 120.33 764 126C760.17 131.67 755.92 138.83 753 144C750.08 149.17 747.58 154.83 746.5 157M842.4 18.3C838.67 21.58 826.63 31.6 820 38C813.37 44.4 809.4 47.2 802.6 56.7C795.8 66.2 785.63 84.12 779.2 95C772.77 105.88 768.2 114.17 764 122C759.8 129.83 756.92 136.17 754 142C751.08 147.83 747.75 154.5 746.5 157M797 18.3C796.03 20.92 794.37 25.05 791.2 34C788.03 42.95 781.45 61.83 778 72C774.55 82.17 773.5 87 770.5 95C767.5 103 763.25 111.5 760 120C756.75 128.5 753.25 139.83 751 146C748.75 152.17 747.25 155.17 746.5 157M754 18.3C753.5 28.58 751.77 67.22 751 80C750.23 92.78 749.98 86.67 749.4 95C748.82 103.33 747.98 119.67 747.5 130C747.02 140.33 746.67 152.5 746.5 157M733.8 18.3C733.48 40.25 731.75 122.22 731.9 150C732.05 177.78 734.23 179.17 734.7 185M714.6 18.3C714.12 40.25 712.1 116.63 711.7 150C711.3 183.37 712.12 207.08 712.2 218.5M696.3 18.3C695.83 40.25 694.02 113.88 693.5 150C692.98 186.12 693.25 220.83 693.2 235M667.5 18.3C667.02 40.25 665.42 109.73 664.6 150C663.78 190.27 662.93 241.58 662.6 259.9M628.1 18.3C627.78 40.25 626.75 106.95 626.2 150C625.65 193.05 625.03 255.5 624.8 276.6M746.5 157C747.58 155 750.08 150 753 145C755.92 140 760.17 132.67 764 127C767.83 121.33 771.67 115.5 776 111C780.33 106.5 786.03 102.67 790 100C793.97 97.33 795.13 96.67 799.8 95C804.47 93.33 811.8 90.45 818 90C824.2 89.55 829.1 90.03 837 92.3C844.9 94.57 857.18 98.55 865.4 103.6C873.62 108.65 880.93 115.63 886.3 122.6C891.67 129.57 894.9 136.5 897.6 145.4C900.3 154.3 901.68 164.42 902.5 176C903.32 187.58 904.23 204.95 902.5 214.9C900.77 224.85 897.73 229.22 892.1 235.7C886.47 242.18 879.95 248.18 868.7 253.8C857.45 259.42 839.73 265.28 824.6 269.4C809.47 273.52 794.33 276.47 777.9 278.5C761.47 280.53 745.65 280.98 726 281.6C706.35 282.22 679.25 282.08 660 282.2C640.75 282.32 618.75 282.28 610.5 282.3M746.5 157C747.75 154.83 750.75 149.17 754 144C757.25 138.83 761.67 131.33 766 126C770.33 120.67 775.13 116.05 780 112C784.87 107.95 789.82 103.88 795.2 101.7C800.58 99.52 805.98 98.58 812.3 98.9C818.62 99.22 826.78 100.6 833.1 103.6C839.42 106.6 845.45 110.88 850.2 116.9C854.95 122.92 858.6 132.42 861.6 139.7C864.6 146.98 866.8 153.88 868.2 160.6C869.6 167.32 869.92 170.95 870 180C870.08 189.05 871.07 205.62 868.7 214.9C866.33 224.18 862.28 229.22 855.8 235.7C849.32 242.18 842.78 248.18 829.8 253.8C816.82 259.42 795.2 265.28 777.9 269.4C760.6 273.52 745.65 276.43 726 278.5C706.35 280.57 679.25 281.17 660 281.8C640.75 282.43 618.75 282.22 610.5 282.3M746.5 157C747.92 154.83 751.58 148.67 755 144C758.42 139.33 763.17 132.83 767 129C770.83 125.17 774.25 123 778 121C781.75 119 784.42 117.05 789.5 117C794.58 116.95 803.75 117.55 808.5 120.7C813.25 123.85 815.75 128.68 818 135.9C820.25 143.12 821.53 153.32 822 164C822.47 174.68 824.7 188.05 820.8 200C816.9 211.95 807.92 226.3 798.6 235.7C789.28 245.1 777 250.78 764.9 256.4C752.8 262.02 736.82 266.37 726 269.4C715.18 272.43 711 272.83 700 274.6C689 276.37 674.92 278.72 660 280C645.08 281.28 618.75 281.92 610.5 282.3M746.5 157C748.33 154.08 754.42 142.92 757.5 139.5C760.58 136.08 762.28 137.13 765 136.5C767.72 135.87 770.35 134.48 773.8 135.7C777.25 136.92 783 139.75 785.7 143.8C788.4 147.85 789.22 154.8 790 160C790.78 165.2 791.07 168.33 790.4 175C789.73 181.67 788.08 192.33 786 200C783.92 207.67 783.57 213.83 777.9 221C772.23 228.17 759.98 237.25 752 243C744.02 248.75 736.07 252.5 730 255.5C723.93 258.5 720.6 259.08 715.6 261C710.6 262.92 709.27 264.08 700 267C690.73 269.92 674.92 275.95 660 278.5C645.08 281.05 618.75 281.67 610.5 282.3M743 163C744.17 163.23 748.22 163.07 750 164.4C751.78 165.73 753.2 167.1 753.7 171C754.2 174.9 754.13 182.3 753 187.8C751.87 193.3 749.73 198.97 746.9 204C744.07 209.03 740.35 213 736 218C731.65 223 726.8 229.17 720.8 234C714.8 238.83 707.2 242.83 700 247C692.8 251.17 686.13 255 677.6 259C669.07 263 656.48 267.83 648.8 271C641.12 274.17 637.88 276.12 631.5 278C625.12 279.88 614 281.58 610.5 282.3M610.5 282.3C612.88 281.35 619.38 278.6 624.8 276.6C630.22 274.6 636.7 273.08 643 270.3C649.3 267.52 656.83 263.12 662.6 259.9C668.37 256.68 672.5 255.15 677.6 251C682.7 246.85 687.43 240.42 693.2 235C698.97 229.58 707.23 223.67 712.2 218.5C717.17 213.33 719.25 209.58 723 204C726.75 198.42 731.7 190.67 734.7 185C737.7 179.33 739.03 174.67 741 170C742.97 165.33 745.58 159.17 746.5 157" fill="none" stroke="#000" stroke-width="1.3" stroke-linejoin="round"/>
<g transform="rotate(-90 666.2 50.4)"><rect x="649.95" y="43.1" width="32.5" height="14.6" fill="#fff"/><text x="666.2" y="56.7" text-anchor="middle" font-size="18">6.06</text></g>
<g><rect x="682.55" y="29.2" width="32.5" height="14.6" fill="#fff"/><text x="698.8" y="42.8" text-anchor="middle" font-size="18">4.88</text></g>
<g><rect x="719.95" y="29.2" width="32.5" height="14.6" fill="#fff"/><text x="736.2" y="42.8" text-anchor="middle" font-size="18">3.71</text></g>
<g><rect x="776.85" y="18.6" width="32.5" height="14.6" fill="#fff"/><text x="793.1" y="32.2" text-anchor="middle" font-size="18">1.35</text></g>
<g transform="rotate(-50 819.7 41)"><rect x="803.45" y="33.7" width="32.5" height="14.6" fill="#fff"/><text x="819.7" y="47.3" text-anchor="middle" font-size="18">1.09</text></g>
<g><rect x="834.75" y="68.3" width="32.5" height="14.6" fill="#fff"/><text x="851" y="81.9" text-anchor="middle" font-size="18">1.02</text></g>
<g><rect x="883.75" y="190.7" width="32.5" height="14.6" fill="#fff"/><text x="900" y="204.3" text-anchor="middle" font-size="18">1.00</text></g>
<g transform="rotate(-90 871.5 183.1)"><rect x="855.25" y="175.8" width="32.5" height="14.6" fill="#fff"/><text x="871.5" y="189.4" text-anchor="middle" font-size="18">0.99</text></g>
<g><rect x="805.05" y="162.8" width="32.5" height="14.6" fill="#fff"/><text x="821.3" y="176.4" text-anchor="middle" font-size="18">0.95</text></g>
<g transform="rotate(-70 786.3 194.8)"><rect x="770.05" y="187.5" width="32.5" height="14.6" fill="#fff"/><text x="786.3" y="201.1" text-anchor="middle" font-size="18">0.90</text></g>
<g><rect x="723.35" y="200.4" width="32.5" height="14.6" fill="#fff"/><text x="739.6" y="214" text-anchor="middle" font-size="18">0.76</text></g>
<g><rect x="681.65" y="235.4" width="32.5" height="14.6" fill="#fff"/><text x="697.9" y="249" text-anchor="middle" font-size="18">0.45</text></g>
<path d="M585.4 18.3H594.9M585.4 53.05H591.9M585.4 87.8H594.9M585.4 122.55H591.9M585.4 157.3H594.9M585.4 192.05H591.9M585.4 226.8H594.9M585.4 261.55H591.9M639.27 282.4V272.9M720.08 282.4V275.9M800.89 282.4V272.9M881.69 282.4V275.9M962.5 282.4V272.9" stroke="#000" stroke-width="1.5" fill="none"/>
<path d="M585.4 17.6V282.4H963.2" fill="none" stroke="#000" stroke-width="1.4"/>
<text x="579.5" y="24.3" text-anchor="end" font-size="18" letter-spacing="0.8">2.0</text>
<text x="579.5" y="94.36" text-anchor="end" font-size="18" letter-spacing="0.8">1.5</text>
<text x="579.5" y="164.43" text-anchor="end" font-size="18" letter-spacing="0.8">1.0</text>
<text x="579.5" y="234.49" text-anchor="end" font-size="18" letter-spacing="0.8">0.5</text>
<text x="638.47" y="305.9" text-anchor="middle" font-size="18" letter-spacing="0.8">0.6</text>
<text x="800.09" y="305.9" text-anchor="middle" font-size="18" letter-spacing="0.8">1.2</text>
<text x="961.7" y="305.9" text-anchor="middle" font-size="18" letter-spacing="0.8">1.8</text>
<rect x="943.3" y="70" width="24.5" height="167.98" fill="rgb(255,0,0)"/>
<rect x="943.3" y="74.63" width="24.5" height="163.35" fill="rgb(255,60,0)"/>
<rect x="943.3" y="84.55" width="24.5" height="153.43" fill="rgb(255,120,0)"/>
<rect x="943.3" y="94.47" width="24.5" height="143.51" fill="rgb(255,180,0)"/>
<rect x="943.3" y="104.39" width="24.5" height="133.59" fill="rgb(255,240,0)"/>
<rect x="943.3" y="114.31" width="24.5" height="123.67" fill="rgb(210,255,0)"/>
<rect x="943.3" y="124.23" width="24.5" height="113.75" fill="rgb(150,255,0)"/>
<rect x="943.3" y="134.15" width="24.5" height="103.83" fill="rgb(90,255,0)"/>
<rect x="943.3" y="144.07" width="24.5" height="93.91" fill="rgb(30,255,0)"/>
<rect x="943.3" y="153.99" width="24.5" height="83.99" fill="rgb(0,255,30)"/>
<rect x="943.3" y="163.91" width="24.5" height="74.07" fill="rgb(0,255,90)"/>
<rect x="943.3" y="173.83" width="24.5" height="64.15" fill="rgb(0,255,150)"/>
<rect x="943.3" y="183.75" width="24.5" height="54.23" fill="rgb(0,255,210)"/>
<rect x="943.3" y="193.67" width="24.5" height="44.31" fill="rgb(0,240,255)"/>
<rect x="943.3" y="203.59" width="24.5" height="34.39" fill="rgb(0,180,255)"/>
<rect x="943.3" y="213.51" width="24.5" height="24.47" fill="rgb(0,120,255)"/>
<rect x="943.3" y="223.43" width="24.5" height="14.55" fill="rgb(0,60,255)"/>
<rect x="943.3" y="233.35" width="24.5" height="4.63" fill="rgb(0,0,255)"/>
<path d="M943.3 94.47h24.5M943.3 114.31h24.5M943.3 134.15h24.5M943.3 153.99h24.5M943.3 173.83h24.5M943.3 193.67h24.5M943.3 213.51h24.5M943.3 233.35h24.5" stroke="#000" stroke-opacity="0.5" stroke-width="0.8"/>
<text x="984.2" y="82.23" font-size="18" letter-spacing="0.5">8.41</text>
<text x="984.2" y="102.07" font-size="18" letter-spacing="0.5">4.88</text>
<text x="984.2" y="121.91" font-size="18" letter-spacing="0.5">3.71</text>
<text x="984.2" y="141.75" font-size="18" letter-spacing="0.5">1.35</text>
<text x="984.2" y="161.59" font-size="18" letter-spacing="0.5">1.02</text>
<text x="984.2" y="181.43" font-size="18" letter-spacing="0.5">0.99</text>
<text x="984.2" y="201.27" font-size="18" letter-spacing="0.5">0.90</text>
<text x="984.2" y="221.11" font-size="18" letter-spacing="0.5">0.45</text>
<text x="984.2" y="240.95" font-size="18" letter-spacing="0.5">&#8722;1.00</text>
<text transform="translate(992.8 63.7) scale(1.15 1)" font-size="18.5" font-style="italic">&#915;</text>
<text x="780.45" y="329.6" text-anchor="middle" font-size="19" font-style="italic">T/T<tspan font-size="11" font-style="normal" dx="-0.5" dy="5">c</tspan></text>
<text transform="translate(541.4 150.35) rotate(-90)" text-anchor="middle" font-size="20" font-style="italic">p/p<tspan font-size="9" font-style="normal" dy="4">c</tspan></text>
<text y="361.9" font-size="21.5"><tspan x="714.4">(</tspan><tspan x="723.6">b</tspan><tspan x="735.4">)</tspan><tspan x="749.9" font-style="italic">n</tspan><tspan>-pentane</tspan></text>
</g>
<g>
<rect x="68.2" y="386.2" width="375.7" height="263.6" fill="rgb(121,255,0)"/>
<path d="M68.2 386.2L443.9 386.2L443.9 500C440.68 497.3 428.72 487.47 424.6 483.8C420.48 480.13 423.3 481.8 419.2 478C415.1 474.2 405.43 465.6 400 461C394.57 456.4 392.62 455.33 386.6 450.4C380.58 445.47 373.38 436.47 363.9 431.4C354.42 426.33 338.43 422 329.7 420C320.97 418 318.12 418.07 311.5 419.4C304.88 420.73 296.92 423.4 290 428C283.08 432.6 275.83 439.67 270 447C264.17 454.33 259.42 463.67 255 472C250.58 480.33 247.25 489 243.5 497C239.75 505 236 513.25 232.5 520C229 526.75 224.17 534.58 222.5 537.5C221.25 540.92 217.75 551.58 215 558C212.25 564.42 209.67 570.33 206 576C202.33 581.67 197 587.33 193 592C189 596.67 185.72 600.08 182 604C178.28 607.92 175.2 612 170.7 615.5C166.2 619 160.52 621.92 155 625C149.48 628.08 141.77 631.78 137.6 634C133.43 636.22 133.67 636.55 130 638.3C126.33 640.05 120.5 642.58 115.6 644.5C110.7 646.42 103.1 648.92 100.6 649.8L68.2 649.8Z" fill="rgb(170,255,0)"/>
<path d="M68.2 386.2L350 386.2C343.92 388.22 325.37 391.97 313.5 398.3C301.63 404.63 287.38 415.58 278.8 424.2C270.22 432.82 266.3 441.7 262 450C257.7 458.3 256.17 466.17 253 474C249.83 481.83 246.5 489.33 243 497C239.5 504.67 235.42 513.25 232 520C228.58 526.75 224.08 534.58 222.5 537.5C221.25 540.92 217.75 551.58 215 558C212.25 564.42 209.67 570.33 206 576C202.33 581.67 197 587.33 193 592C189 596.67 185.72 600.08 182 604C178.28 607.92 175.2 612 170.7 615.5C166.2 619 160.52 621.92 155 625C149.48 628.08 141.77 631.78 137.6 634C133.43 636.22 133.67 636.55 130 638.3C126.33 640.05 120.5 642.58 115.6 644.5C110.7 646.42 103.1 648.92 100.6 649.8L68.2 649.8Z" fill="rgb(219,255,0)"/>
<path d="M68.2 386.2L269.1 386.2C267.48 392.38 262.83 411.68 259.4 423.3C255.97 434.92 252.12 445.05 248.5 455.9C244.88 466.75 241.13 477.57 237.7 488.4C234.27 499.23 230.43 512.72 227.9 520.9C225.37 529.08 223.4 534.73 222.5 537.5C221.25 540.92 217.75 551.58 215 558C212.25 564.42 209.67 570.33 206 576C202.33 581.67 197 587.33 193 592C189 596.67 185.72 600.08 182 604C178.28 607.92 175.2 612 170.7 615.5C166.2 619 160.52 621.92 155 625C149.48 628.08 141.77 631.78 137.6 634C133.43 636.22 133.67 636.55 130 638.3C126.33 640.05 120.5 642.58 115.6 644.5C110.7 646.42 103.1 648.92 100.6 649.8L68.2 649.8Z" fill="rgb(255,243,0)"/>
<path d="M68.2 386.2L218.7 386.2C218.85 407.67 219.38 491.03 219.6 515C219.82 538.97 219.52 526.25 220 530C220.48 533.75 222.08 536.25 222.5 537.5C221.25 540.92 217.75 551.58 215 558C212.25 564.42 209.67 570.33 206 576C202.33 581.67 197 587.33 193 592C189 596.67 185.72 600.08 182 604C178.28 607.92 175.2 612 170.7 615.5C166.2 619 160.52 621.92 155 625C149.48 628.08 141.77 631.78 137.6 634C133.43 636.22 133.67 636.55 130 638.3C126.33 640.05 120.5 642.58 115.6 644.5C110.7 646.42 103.1 648.92 100.6 649.8L68.2 649.8Z" fill="rgb(255,194,0)"/>
<path d="M380.8 386.2C386.25 386.93 402.98 388.58 413.5 390.6C424.02 392.62 438.83 397.02 443.9 398.3L443.9 386.2Z" fill="rgb(219,255,0)"/>
<path d="M68.2 386.2L195 386.2C194.62 407.67 193.03 480.7 192.7 515C192.37 549.3 192.95 579.17 193 592C189 596.67 185.72 600.08 182 604C178.28 607.92 175.2 612 170.7 615.5C166.2 619 160.52 621.92 155 625C149.48 628.08 141.77 631.78 137.6 634C133.43 636.22 133.67 636.55 130 638.3C126.33 640.05 120.5 642.58 115.6 644.5C110.7 646.42 103.1 648.92 100.6 649.8L68.2 649.8Z" fill="rgb(255,146,0)"/>
<path d="M68.2 386.2L173.8 386.2C173.42 407.67 172.02 476.78 171.5 515C170.98 553.22 170.83 598.75 170.7 615.5C166.2 619 160.52 621.92 155 625C149.48 628.08 141.77 631.78 137.6 634C133.43 636.22 133.67 636.55 130 638.3C126.33 640.05 120.5 642.58 115.6 644.5C110.7 646.42 103.1 648.92 100.6 649.8L68.2 649.8Z" fill="rgb(255,97,0)"/>
<path d="M68.2 386.2L142.3 386.2C141.88 407.67 140.58 473.7 139.8 515C139.02 556.3 137.97 614.17 137.6 634C133.43 636.22 133.67 636.55 130 638.3C126.33 640.05 120.5 642.58 115.6 644.5C110.7 646.42 103.1 648.92 100.6 649.8L68.2 649.8Z" fill="rgb(255,49,0)"/>
<path d="M68.2 386.2L119.2 386.2C118.95 407.67 118.3 471.95 117.7 515C117.1 558.05 115.95 622.92 115.6 644.5C110.7 646.42 103.1 648.92 100.6 649.8L68.2 649.8Z" fill="rgb(255,0,0)"/>
<path d="M222.5 537.5C224.25 534.58 229.42 526.75 233 520C236.58 513.25 240.17 504.67 244 497C247.83 489.33 251.67 481.17 256 474C260.33 466.83 265.17 459.5 270 454C274.83 448.5 279.48 444.13 285 441C290.52 437.87 296.28 435.22 303.1 435.2C309.92 435.18 318.3 437.1 325.9 440.9C333.5 444.7 342.37 452 348.7 458C355.03 464 359.45 469.9 363.9 476.9C368.35 483.9 371.45 492.77 375.4 500C379.35 507.23 383.88 512.85 387.6 520.3C391.32 527.75 395.17 536.23 397.7 544.7C400.23 553.17 402.12 563.3 402.8 571.1C403.48 578.9 402.98 585.05 401.8 591.5C400.62 597.95 398.75 604.38 395.7 609.8C392.65 615.22 389.27 619.6 383.5 624C377.73 628.4 369.9 632.48 361.1 636.2C352.3 639.92 344.22 644.12 330.7 646.3C317.18 648.48 301.78 648.73 280 649.3C258.22 649.87 229.9 649.62 200 649.7C170.1 649.78 117.17 649.78 100.6 649.8C103.1 648.92 110.7 646.42 115.6 644.5C120.5 642.58 126.33 640.05 130 638.3C133.67 636.55 133.43 636.22 137.6 634C141.77 631.78 149.48 628.08 155 625C160.52 621.92 166.2 619 170.7 615.5C175.2 612 178.28 607.92 182 604C185.72 600.08 189 596.67 193 592C197 587.33 202.33 581.67 206 576C209.67 570.33 212.25 564.42 215 558C217.75 551.58 221.25 540.92 222.5 537.5Z" fill="rgb(73,255,0)"/>
<path d="M222.5 537.5C224.33 534.58 229.83 526.75 233.5 520C237.17 513.25 240.58 504.58 244.5 497C248.42 489.42 251.97 481.5 257 474.5C262.03 467.5 267.97 460.42 274.7 455C281.43 449.58 289.5 443.08 297.4 442C305.3 440.92 314.82 444.58 322.1 448.5C329.38 452.42 336.12 459.92 341.1 465.5C346.08 471.08 349 476.25 352 482C355 487.75 356.57 493.62 359.1 500C361.63 506.38 365.17 513.52 367.2 520.3C369.23 527.08 370.28 533.92 371.3 540.7C372.32 547.48 373.13 554.23 373.3 561C373.47 567.77 373.65 574.53 372.3 581.3C370.95 588.07 368.75 595.5 365.2 601.6C361.65 607.7 356.75 613.15 351 617.9C345.25 622.65 337.53 626.33 330.7 630.1C323.87 633.87 318.45 637.68 310 640.5C301.55 643.32 298.33 645.5 280 647C261.67 648.5 229.9 649.03 200 649.5C170.1 649.97 117.17 649.75 100.6 649.8C103.1 648.92 110.7 646.42 115.6 644.5C120.5 642.58 126.33 640.05 130 638.3C133.67 636.55 133.43 636.22 137.6 634C141.77 631.78 149.48 628.08 155 625C160.52 621.92 166.2 619 170.7 615.5C175.2 612 178.28 607.92 182 604C185.72 600.08 189 596.67 193 592C197 587.33 202.33 581.67 206 576C209.67 570.33 212.25 564.42 215 558C217.75 551.58 221.25 540.92 222.5 537.5Z" fill="rgb(24,255,0)"/>
<path d="M222.5 537.5C224.42 534.58 230.25 526.67 234 520C237.75 513.33 241 504.83 245 497.5C249 490.17 252.42 482.42 258 476C263.58 469.58 271.3 463.17 278.5 459C285.7 454.83 293.93 450.55 301.2 451C308.47 451.45 316.4 456.43 322.1 461.7C327.8 466.97 332.67 476.22 335.4 482.6C338.13 488.98 337.65 493.77 338.5 500C339.35 506.23 339.92 512.5 340.5 520C341.08 527.5 341.83 537.5 342 545C342.17 552.5 342.72 557.25 341.5 565C340.28 572.75 337.87 584.38 334.7 591.5C331.53 598.62 326.62 603.58 322.5 607.7C318.38 611.83 317.08 612.53 310 616.25C302.92 619.97 291.25 625.83 280 630C268.75 634.17 252.92 638.33 242.5 641.25C232.08 644.17 232.92 646.12 217.5 647.5C202.08 648.88 169.48 649.12 150 649.5C130.52 649.88 108.83 649.75 100.6 649.8C103.1 648.92 110.7 646.42 115.6 644.5C120.5 642.58 126.33 640.05 130 638.3C133.67 636.55 133.43 636.22 137.6 634C141.77 631.78 149.48 628.08 155 625C160.52 621.92 166.2 619 170.7 615.5C175.2 612 178.28 607.92 182 604C185.72 600.08 189 596.67 193 592C197 587.33 202.33 581.67 206 576C209.67 570.33 212.25 564.42 215 558C217.75 551.58 221.25 540.92 222.5 537.5Z" fill="rgb(0,255,24)"/>
<path d="M222.5 537.5C224.5 534.58 230.58 526.58 234.5 520C238.42 513.42 241.83 505 246 498C250.17 491 254.72 483.17 259.5 478C264.28 472.83 269.95 468.45 274.7 467C279.45 465.55 283.9 466.07 288 469.3C292.1 472.53 296.55 480.45 299.3 486.4C302.05 492.35 303.13 498.57 304.5 505C305.87 511.43 307.08 518.33 307.5 525C307.92 531.67 307.58 538.83 307 545C306.42 551.17 305.83 555.83 304 562C302.17 568.17 299.17 575.67 296 582C292.83 588.33 289.75 594.29 285 600C280.25 605.71 275.62 611.04 267.5 616.25C259.38 621.46 246.67 627.08 236.25 631.25C225.83 635.42 214.38 638.62 205 641.25C195.62 643.88 190.83 645.66 180 647C169.17 648.34 153.23 648.83 140 649.3C126.77 649.77 107.17 649.72 100.6 649.8C103.1 648.92 110.7 646.42 115.6 644.5C120.5 642.58 126.33 640.05 130 638.3C133.67 636.55 133.43 636.22 137.6 634C141.77 631.78 149.48 628.08 155 625C160.52 621.92 166.2 619 170.7 615.5C175.2 612 178.28 607.92 182 604C185.72 600.08 189 596.67 193 592C197 587.33 202.33 581.67 206 576C209.67 570.33 212.25 564.42 215 558C217.75 551.58 221.25 540.92 222.5 537.5Z" fill="rgb(0,255,73)"/>
<path d="M222.5 537.5C224.58 534.42 231.58 524.75 235 519C238.42 513.25 240.5 507.5 243 503C245.5 498.5 247.67 494.58 250 492C252.33 489.42 254.33 487.83 257 487.5C259.67 487.17 263.67 488.42 266 490C268.33 491.58 269.75 492.5 271 497C272.25 501.5 273.33 509 273.5 517C273.67 525 273.08 537 272 545C270.92 553 269.83 558.33 267 565C264.17 571.67 260.12 578.54 255 585C249.88 591.46 243.54 598.12 236.25 603.75C228.96 609.38 220.62 613.96 211.25 618.75C201.88 623.54 191.88 628.29 180 632.5C168.12 636.71 153.23 641.12 140 644C126.77 646.88 107.17 648.83 100.6 649.8C103.1 648.92 110.7 646.42 115.6 644.5C120.5 642.58 126.33 640.05 130 638.3C133.67 636.55 133.43 636.22 137.6 634C141.77 631.78 149.48 628.08 155 625C160.52 621.92 166.2 619 170.7 615.5C175.2 612 178.28 607.92 182 604C185.72 600.08 189 596.67 193 592C197 587.33 202.33 581.67 206 576C209.67 570.33 212.25 564.42 215 558C217.75 551.58 221.25 540.92 222.5 537.5Z" fill="rgb(0,255,121)"/>
<path d="M230 521C231.17 519.33 234.93 512.98 237 511C239.07 509.02 240.37 507.95 242.4 509.1C244.43 510.25 248.07 513.72 249.2 517.9C250.33 522.08 249.88 527.87 249.2 534.2C248.52 540.53 247.3 549.27 245.1 555.9C242.9 562.53 241.02 567.48 236 574C230.98 580.52 221.21 589.21 215 595C208.79 600.79 204.58 604.58 198.75 608.75C192.92 612.92 188.12 615.62 180 620C171.88 624.38 160 630.83 150 635C140 639.17 128.23 642.53 120 645C111.77 647.47 103.83 649 100.6 649.8C103.1 648.92 110.7 646.42 115.6 644.5C120.5 642.58 126.33 640.05 130 638.3C133.67 636.55 133.43 636.22 137.6 634C141.77 631.78 149.48 628.08 155 625C160.52 621.92 166.2 619 170.7 615.5C175.2 612 178.28 607.92 182 604C185.72 600.08 189 596.67 193 592C197 587.33 202.33 581.67 206 576C209.67 570.33 212.25 564.42 215 558C217.75 551.58 221.25 540.92 222.5 537.5Z" fill="rgb(0,255,170)"/>
<path d="M226 530C226.83 528.92 229.62 524.72 231 523.5C232.38 522.28 233.3 521.37 234.3 522.7C235.3 524.03 236.92 527.32 237 531.5C237.08 535.68 235.8 542.88 234.8 547.8C233.8 552.72 233.13 556.13 231 561C228.87 565.87 226.96 571.17 222 577C217.04 582.83 207.25 590.5 201.25 596C195.25 601.5 192.04 604.58 186 610C179.96 615.42 172.67 623.5 165 628.5C157.33 633.5 148.33 636.83 140 640C131.67 643.17 121.57 645.87 115 647.5C108.43 649.13 103 649.42 100.6 649.8C103.1 648.92 110.7 646.42 115.6 644.5C120.5 642.58 126.33 640.05 130 638.3C133.67 636.55 133.43 636.22 137.6 634C141.77 631.78 149.48 628.08 155 625C160.52 621.92 166.2 619 170.7 615.5C175.2 612 178.28 607.92 182 604C185.72 600.08 189 596.67 193 592C197 587.33 202.33 581.67 206 576C209.67 570.33 212.25 564.42 215 558C217.75 551.58 221.25 540.92 222.5 537.5Z" fill="rgb(0,255,219)"/>
<path d="M206 576C206.31 576.2 209.74 574.29 207.85 577.2C205.96 580.1 198.71 588.71 194.67 593.43C190.63 598.15 187.37 601.55 183.6 605.51C179.83 609.48 176.64 613.67 172.05 617.24C167.46 620.8 161.64 623.8 156.07 626.92C150.5 630.04 142.82 633.71 138.63 635.94C134.45 638.17 134.65 638.52 130.95 640.29C127.24 642.05 121.46 644.96 116.4 646.55C111.34 648.13 103.23 649.26 100.6 649.8C103.1 648.92 110.7 646.42 115.6 644.5C120.5 642.58 126.33 640.05 130 638.3C133.67 636.55 133.43 636.22 137.6 634C141.77 631.78 149.48 628.08 155 625C160.52 621.92 166.2 619 170.7 615.5C175.2 612 178.28 607.92 182 604C185.72 600.08 189 596.67 193 592C197 587.33 202.33 581.67 206 576Z" fill="rgb(0,243,255)"/>
<path d="M443.9 500C440.68 497.3 428.72 487.47 424.6 483.8C420.48 480.13 423.3 481.8 419.2 478C415.1 474.2 405.43 465.6 400 461C394.57 456.4 392.62 455.33 386.6 450.4C380.58 445.47 373.38 436.47 363.9 431.4C354.42 426.33 338.43 422 329.7 420C320.97 418 318.12 418.07 311.5 419.4C304.88 420.73 296.92 423.4 290 428C283.08 432.6 275.83 439.67 270 447C264.17 454.33 259.42 463.67 255 472C250.58 480.33 247.25 489 243.5 497C239.75 505 236 513.25 232.5 520C229 526.75 224.17 534.58 222.5 537.5M350 386.2C343.92 388.22 325.37 391.97 313.5 398.3C301.63 404.63 287.38 415.58 278.8 424.2C270.22 432.82 266.3 441.7 262 450C257.7 458.3 256.17 466.17 253 474C249.83 481.83 246.5 489.33 243 497C239.5 504.67 235.42 513.25 232 520C228.58 526.75 224.08 534.58 222.5 537.5M269.1 386.2C267.48 392.38 262.83 411.68 259.4 423.3C255.97 434.92 252.12 445.05 248.5 455.9C244.88 466.75 241.13 477.57 237.7 488.4C234.27 499.23 230.43 512.72 227.9 520.9C225.37 529.08 223.4 534.73 222.5 537.5M218.7 386.2C218.85 407.67 219.38 491.03 219.6 515C219.82 538.97 219.52 526.25 220 530C220.48 533.75 222.08 536.25 222.5 537.5M380.8 386.2C386.25 386.93 402.98 388.58 413.5 390.6C424.02 392.62 438.83 397.02 443.9 398.3M195 386.2C194.62 407.67 193.03 480.7 192.7 515C192.37 549.3 192.95 579.17 193 592M173.8 386.2C173.42 407.67 172.02 476.78 171.5 515C170.98 553.22 170.83 598.75 170.7 615.5M142.3 386.2C141.88 407.67 140.58 473.7 139.8 515C139.02 556.3 137.97 614.17 137.6 634M119.2 386.2C118.95 407.67 118.3 471.95 117.7 515C117.1 558.05 115.95 622.92 115.6 644.5M222.5 537.5C224.25 534.58 229.42 526.75 233 520C236.58 513.25 240.17 504.67 244 497C247.83 489.33 251.67 481.17 256 474C260.33 466.83 265.17 459.5 270 454C274.83 448.5 279.48 444.13 285 441C290.52 437.87 296.28 435.22 303.1 435.2C309.92 435.18 318.3 437.1 325.9 440.9C333.5 444.7 342.37 452 348.7 458C355.03 464 359.45 469.9 363.9 476.9C368.35 483.9 371.45 492.77 375.4 500C379.35 507.23 383.88 512.85 387.6 520.3C391.32 527.75 395.17 536.23 397.7 544.7C400.23 553.17 402.12 563.3 402.8 571.1C403.48 578.9 402.98 585.05 401.8 591.5C400.62 597.95 398.75 604.38 395.7 609.8C392.65 615.22 389.27 619.6 383.5 624C377.73 628.4 369.9 632.48 361.1 636.2C352.3 639.92 344.22 644.12 330.7 646.3C317.18 648.48 301.78 648.73 280 649.3C258.22 649.87 229.9 649.62 200 649.7C170.1 649.78 117.17 649.78 100.6 649.8M222.5 537.5C224.33 534.58 229.83 526.75 233.5 520C237.17 513.25 240.58 504.58 244.5 497C248.42 489.42 251.97 481.5 257 474.5C262.03 467.5 267.97 460.42 274.7 455C281.43 449.58 289.5 443.08 297.4 442C305.3 440.92 314.82 444.58 322.1 448.5C329.38 452.42 336.12 459.92 341.1 465.5C346.08 471.08 349 476.25 352 482C355 487.75 356.57 493.62 359.1 500C361.63 506.38 365.17 513.52 367.2 520.3C369.23 527.08 370.28 533.92 371.3 540.7C372.32 547.48 373.13 554.23 373.3 561C373.47 567.77 373.65 574.53 372.3 581.3C370.95 588.07 368.75 595.5 365.2 601.6C361.65 607.7 356.75 613.15 351 617.9C345.25 622.65 337.53 626.33 330.7 630.1C323.87 633.87 318.45 637.68 310 640.5C301.55 643.32 298.33 645.5 280 647C261.67 648.5 229.9 649.03 200 649.5C170.1 649.97 117.17 649.75 100.6 649.8M222.5 537.5C224.42 534.58 230.25 526.67 234 520C237.75 513.33 241 504.83 245 497.5C249 490.17 252.42 482.42 258 476C263.58 469.58 271.3 463.17 278.5 459C285.7 454.83 293.93 450.55 301.2 451C308.47 451.45 316.4 456.43 322.1 461.7C327.8 466.97 332.67 476.22 335.4 482.6C338.13 488.98 337.65 493.77 338.5 500C339.35 506.23 339.92 512.5 340.5 520C341.08 527.5 341.83 537.5 342 545C342.17 552.5 342.72 557.25 341.5 565C340.28 572.75 337.87 584.38 334.7 591.5C331.53 598.62 326.62 603.58 322.5 607.7C318.38 611.83 317.08 612.53 310 616.25C302.92 619.97 291.25 625.83 280 630C268.75 634.17 252.92 638.33 242.5 641.25C232.08 644.17 232.92 646.12 217.5 647.5C202.08 648.88 169.48 649.12 150 649.5C130.52 649.88 108.83 649.75 100.6 649.8M222.5 537.5C224.5 534.58 230.58 526.58 234.5 520C238.42 513.42 241.83 505 246 498C250.17 491 254.72 483.17 259.5 478C264.28 472.83 269.95 468.45 274.7 467C279.45 465.55 283.9 466.07 288 469.3C292.1 472.53 296.55 480.45 299.3 486.4C302.05 492.35 303.13 498.57 304.5 505C305.87 511.43 307.08 518.33 307.5 525C307.92 531.67 307.58 538.83 307 545C306.42 551.17 305.83 555.83 304 562C302.17 568.17 299.17 575.67 296 582C292.83 588.33 289.75 594.29 285 600C280.25 605.71 275.62 611.04 267.5 616.25C259.38 621.46 246.67 627.08 236.25 631.25C225.83 635.42 214.38 638.62 205 641.25C195.62 643.88 190.83 645.66 180 647C169.17 648.34 153.23 648.83 140 649.3C126.77 649.77 107.17 649.72 100.6 649.8M222.5 537.5C224.58 534.42 231.58 524.75 235 519C238.42 513.25 240.5 507.5 243 503C245.5 498.5 247.67 494.58 250 492C252.33 489.42 254.33 487.83 257 487.5C259.67 487.17 263.67 488.42 266 490C268.33 491.58 269.75 492.5 271 497C272.25 501.5 273.33 509 273.5 517C273.67 525 273.08 537 272 545C270.92 553 269.83 558.33 267 565C264.17 571.67 260.12 578.54 255 585C249.88 591.46 243.54 598.12 236.25 603.75C228.96 609.38 220.62 613.96 211.25 618.75C201.88 623.54 191.88 628.29 180 632.5C168.12 636.71 153.23 641.12 140 644C126.77 646.88 107.17 648.83 100.6 649.8M230 521C231.17 519.33 234.93 512.98 237 511C239.07 509.02 240.37 507.95 242.4 509.1C244.43 510.25 248.07 513.72 249.2 517.9C250.33 522.08 249.88 527.87 249.2 534.2C248.52 540.53 247.3 549.27 245.1 555.9C242.9 562.53 241.02 567.48 236 574C230.98 580.52 221.21 589.21 215 595C208.79 600.79 204.58 604.58 198.75 608.75C192.92 612.92 188.12 615.62 180 620C171.88 624.38 160 630.83 150 635C140 639.17 128.23 642.53 120 645C111.77 647.47 103.83 649 100.6 649.8M226 530C226.83 528.92 229.62 524.72 231 523.5C232.38 522.28 233.3 521.37 234.3 522.7C235.3 524.03 236.92 527.32 237 531.5C237.08 535.68 235.8 542.88 234.8 547.8C233.8 552.72 233.13 556.13 231 561C228.87 565.87 226.96 571.17 222 577C217.04 582.83 207.25 590.5 201.25 596C195.25 601.5 192.04 604.58 186 610C179.96 615.42 172.67 623.5 165 628.5C157.33 633.5 148.33 636.83 140 640C131.67 643.17 121.57 645.87 115 647.5C108.43 649.13 103 649.42 100.6 649.8M100.6 649.8C103.1 648.92 110.7 646.42 115.6 644.5C120.5 642.58 126.33 640.05 130 638.3C133.67 636.55 133.43 636.22 137.6 634C141.77 631.78 149.48 628.08 155 625C160.52 621.92 166.2 619 170.7 615.5C175.2 612 178.28 607.92 182 604C185.72 600.08 189 596.67 193 592C197 587.33 202.33 581.67 206 576C209.67 570.33 212.25 564.42 215 558C217.75 551.58 221.25 540.92 222.5 537.5" fill="none" stroke="#000" stroke-width="1.3" stroke-linejoin="round"/>
<g><rect x="123.55" y="406.4" width="32.5" height="14.6" fill="#fff"/><text x="139.8" y="420" text-anchor="middle" font-size="18">6.86</text></g>
<g><rect x="175.45" y="403.7" width="32.5" height="14.6" fill="#fff"/><text x="191.7" y="417.3" text-anchor="middle" font-size="18">4.53</text></g>
<g><rect x="245.75" y="399.7" width="32.5" height="14.6" fill="#fff"/><text x="262" y="413.3" text-anchor="middle" font-size="18">1.43</text></g>
<g transform="rotate(-25 331 391)"><rect x="314.75" y="383.7" width="32.5" height="14.6" fill="#fff"/><text x="331" y="397.3" text-anchor="middle" font-size="18">1.05</text></g>
<g><rect x="384.25" y="454.5" width="32.5" height="14.6" fill="#fff"/><text x="400.5" y="468.1" text-anchor="middle" font-size="18">1.02</text></g>
<g><rect x="363.15" y="502.5" width="32.5" height="14.6" fill="#fff"/><text x="379.4" y="516.1" text-anchor="middle" font-size="18">1.00</text></g>
<g><rect x="355.05" y="537.2" width="32.5" height="14.6" fill="#fff"/><text x="371.3" y="550.8" text-anchor="middle" font-size="18">0.99</text></g>
<g><rect x="311.75" y="594.9" width="32.5" height="14.6" fill="#fff"/><text x="328" y="608.5" text-anchor="middle" font-size="18">0.97</text></g>
<g><rect x="290.15" y="534.2" width="32.5" height="14.6" fill="#fff"/><text x="306.4" y="547.8" text-anchor="middle" font-size="18">0.94</text></g>
<g><rect x="258.85" y="512.5" width="32.5" height="14.6" fill="#fff"/><text x="275.1" y="526.1" text-anchor="middle" font-size="18">0.88</text></g>
<g><rect x="230.55" y="540.8" width="32.5" height="14.6" fill="#fff"/><text x="246.8" y="554.4" text-anchor="middle" font-size="18">0.77</text></g>
<g><rect x="202.45" y="576.2" width="32.5" height="14.6" fill="#fff"/><text x="218.7" y="589.8" text-anchor="middle" font-size="18">0.65</text></g>
<g transform="rotate(-45 182.5 604.9)"><rect x="163.5" y="597.6" width="38" height="14.6" fill="#fff"/><text x="182.5" y="611.2" text-anchor="middle" font-size="18">-0.90</text></g>
<path d="M68.2 386.2H77.7M68.2 420.88H74.7M68.2 455.57H77.7M68.2 490.25H74.7M68.2 524.94H77.7M68.2 559.62H74.7M68.2 594.31H77.7M68.2 628.99H74.7M121.87 649.8V640.3M202.38 649.8V643.3M282.89 649.8V640.3M363.39 649.8V643.3M443.9 649.8V640.3" stroke="#000" stroke-width="1.5" fill="none"/>
<path d="M68.2 385.5V649.8H444.6" fill="none" stroke="#000" stroke-width="1.4"/>
<text x="62.3" y="392.2" text-anchor="end" font-size="18" letter-spacing="0.8">2.0</text>
<text x="62.3" y="462.13" text-anchor="end" font-size="18" letter-spacing="0.8">1.5</text>
<text x="62.3" y="532.07" text-anchor="end" font-size="18" letter-spacing="0.8">1.0</text>
<text x="62.3" y="602" text-anchor="end" font-size="18" letter-spacing="0.8">0.5</text>
<text x="121.07" y="673.3" text-anchor="middle" font-size="18" letter-spacing="0.8">0.6</text>
<text x="282.09" y="673.3" text-anchor="middle" font-size="18" letter-spacing="0.8">1.2</text>
<text x="443.1" y="673.3" text-anchor="middle" font-size="18" letter-spacing="0.8">1.8</text>
<rect x="424.5" y="437.8" width="24.4" height="207.6" fill="rgb(255,0,0)"/>
<rect x="424.5" y="442.74" width="24.4" height="202.66" fill="rgb(255,49,0)"/>
<rect x="424.5" y="452.63" width="24.4" height="192.77" fill="rgb(255,97,0)"/>
<rect x="424.5" y="462.51" width="24.4" height="182.89" fill="rgb(255,146,0)"/>
<rect x="424.5" y="472.4" width="24.4" height="173" fill="rgb(255,194,0)"/>
<rect x="424.5" y="482.28" width="24.4" height="163.12" fill="rgb(255,243,0)"/>
<rect x="424.5" y="492.17" width="24.4" height="153.23" fill="rgb(219,255,0)"/>
<rect x="424.5" y="502.06" width="24.4" height="143.34" fill="rgb(170,255,0)"/>
<rect x="424.5" y="511.94" width="24.4" height="133.46" fill="rgb(121,255,0)"/>
<rect x="424.5" y="521.83" width="24.4" height="123.57" fill="rgb(73,255,0)"/>
<rect x="424.5" y="531.71" width="24.4" height="113.69" fill="rgb(24,255,0)"/>
<rect x="424.5" y="541.6" width="24.4" height="103.8" fill="rgb(0,255,24)"/>
<rect x="424.5" y="551.49" width="24.4" height="93.91" fill="rgb(0,255,73)"/>
<rect x="424.5" y="561.37" width="24.4" height="84.03" fill="rgb(0,255,121)"/>
<rect x="424.5" y="571.26" width="24.4" height="74.14" fill="rgb(0,255,170)"/>
<rect x="424.5" y="581.14" width="24.4" height="64.26" fill="rgb(0,255,219)"/>
<rect x="424.5" y="591.03" width="24.4" height="54.37" fill="rgb(0,243,255)"/>
<rect x="424.5" y="600.92" width="24.4" height="44.48" fill="rgb(0,194,255)"/>
<rect x="424.5" y="610.8" width="24.4" height="34.6" fill="rgb(0,146,255)"/>
<rect x="424.5" y="620.69" width="24.4" height="24.71" fill="rgb(0,97,255)"/>
<rect x="424.5" y="630.57" width="24.4" height="14.83" fill="rgb(0,49,255)"/>
<rect x="424.5" y="640.46" width="24.4" height="4.94" fill="rgb(0,0,255)"/>
<path d="M424.5 462.51h24.4M424.5 482.28h24.4M424.5 502.06h24.4M424.5 521.83h24.4M424.5 541.6h24.4M424.5 561.37h24.4M424.5 581.14h24.4M424.5 600.92h24.4M424.5 620.69h24.4M424.5 640.46h24.4" stroke="#000" stroke-opacity="0.5" stroke-width="0.8"/>
<text x="465" y="450.34" font-size="18" letter-spacing="0.5">8.41</text>
<text x="465" y="470.11" font-size="18" letter-spacing="0.5">5.31</text>
<text x="465" y="489.88" font-size="18" letter-spacing="0.5">3.76</text>
<text x="465" y="509.66" font-size="18" letter-spacing="0.5">1.05</text>
<text x="465" y="529.43" font-size="18" letter-spacing="0.5">1.00</text>
<text x="465" y="549.2" font-size="18" letter-spacing="0.5">0.97</text>
<text x="465" y="568.97" font-size="18" letter-spacing="0.5">0.88</text>
<text x="465" y="588.74" font-size="18" letter-spacing="0.5">0.65</text>
<text x="465" y="608.52" font-size="18" letter-spacing="0.5">&#8722;0.90</text>
<text x="465" y="628.29" font-size="18" letter-spacing="0.5">&#8722;2.45</text>
<text x="465" y="648.06" font-size="18" letter-spacing="0.5">&#8722;4.00</text>
<text transform="translate(473.6 431.5) scale(1.15 1)" font-size="18.5" font-style="italic">&#915;</text>
<text x="262.55" y="697" text-anchor="middle" font-size="19" font-style="italic">T/T<tspan font-size="11" font-style="normal" dx="-0.5" dy="5">c</tspan></text>
<text transform="translate(24.2 518) rotate(-90)" text-anchor="middle" font-size="20" font-style="italic">p/p<tspan font-size="9" font-style="normal" dy="4">c</tspan></text>
<text y="728.5" font-size="21.5"><tspan x="202">(</tspan><tspan x="211.2">c</tspan><tspan x="223">)</tspan><tspan x="237.5" font-style="italic">n</tspan><tspan>-octane</tspan></text>
</g>
<g>
<rect x="584.9" y="385" width="377.6" height="264.6" fill="rgb(102,255,0)"/>
<path d="M584.9 385L962.5 385L962.5 565C959.22 561.87 948.55 553.53 942.8 546.2C937.05 538.87 933.47 529.53 928 521C922.53 512.47 915.28 502.05 910 495C904.72 487.95 901.12 485.22 896.3 478.7C891.48 472.18 886.17 462.55 881.1 455.9C876.03 449.25 871.6 443.87 865.9 438.8C860.2 433.73 853.22 428.82 846.9 425.5C840.58 422.18 834.32 419.68 828 418.9C821.68 418.12 814.83 419.28 809 420.8C803.17 422.32 797.67 424.13 793 428C788.33 431.87 784.33 438.33 781 444C777.67 449.67 776.33 454.33 773 462C769.67 469.67 765.08 480.67 761 490C756.92 499.33 750.58 513.33 748.5 518C747.42 521.33 744.33 531.9 742 538C739.67 544.1 738.03 547.6 734.5 554.6C730.97 561.6 727.47 570.55 720.8 580C714.13 589.45 702.38 603.63 694.5 611.3C686.62 618.97 682.25 620.73 673.5 626C664.75 631.27 650.22 639 642 642.9C633.78 646.8 627.17 648.32 624.2 649.4L584.9 649.6Z" fill="rgb(153,255,0)"/>
<path d="M584.9 385L962.5 385L962.5 497C959.3 494.1 949.92 485.82 943.3 479.6C936.68 473.38 930.02 466.5 922.8 459.7C915.58 452.9 908.85 445.13 900 438.8C891.15 432.47 877.6 426.12 869.7 421.7C861.8 417.28 858.93 414.82 852.6 412.3C846.27 409.78 838.97 406.6 831.7 406.6C824.43 406.6 815.45 409.9 809 412.3C802.55 414.7 797.83 416.38 793 421C788.17 425.62 783.5 433.33 780 440C776.5 446.67 775.25 452.67 772 461C768.75 469.33 764.42 480.5 760.5 490C756.58 499.5 750.5 513.33 748.5 518C747.42 521.33 744.33 531.9 742 538C739.67 544.1 738.03 547.6 734.5 554.6C730.97 561.6 727.47 570.55 720.8 580C714.13 589.45 702.38 603.63 694.5 611.3C686.62 618.97 682.25 620.73 673.5 626C664.75 631.27 650.22 639 642 642.9C633.78 646.8 627.17 648.32 624.2 649.4L584.9 649.6Z" fill="rgb(204,255,0)"/>
<path d="M584.9 385L811.8 385C808.55 388.78 797.1 401.03 792.3 407.7C787.5 414.37 785.47 419.62 783 425C780.53 430.38 779.5 433.83 777.5 440C775.5 446.17 773.92 453.67 771 462C768.08 470.33 763.75 480.67 760 490C756.25 499.33 750.42 513.33 748.5 518C747.42 521.33 744.33 531.9 742 538C739.67 544.1 738.03 547.6 734.5 554.6C730.97 561.6 727.47 570.55 720.8 580C714.13 589.45 702.38 603.63 694.5 611.3C686.62 618.97 682.25 620.73 673.5 626C664.75 631.27 650.22 639 642 642.9C633.78 646.8 627.17 648.32 624.2 649.4L584.9 649.6Z" fill="rgb(255,255,0)"/>
<path d="M584.9 385L778.5 385C777.22 390.83 773.22 409.83 770.8 420C768.38 430.17 766.23 437.3 764 446C761.77 454.7 759.4 463.7 757.4 472.2C755.4 480.7 753.48 489.37 752 497C750.52 504.63 749.08 514.5 748.5 518C747.42 521.33 744.33 531.9 742 538C739.67 544.1 738.03 547.6 734.5 554.6C730.97 561.6 727.47 570.55 720.8 580C714.13 589.45 702.38 603.63 694.5 611.3C686.62 618.97 682.25 620.73 673.5 626C664.75 631.27 650.22 639 642 642.9C633.78 646.8 627.17 648.32 624.2 649.4L584.9 649.6Z" fill="rgb(255,204,0)"/>
<path d="M946.5 385C946.75 390.83 947.52 411.35 948 420C948.48 428.65 948.57 431.9 949.4 436.9C950.23 441.9 950.82 446.98 953 450C955.18 453.02 960.92 454.17 962.5 455L962.5 385Z" fill="rgb(255,255,0)"/>
<path d="M584.9 385L746.2 385C746.35 404.17 746.72 477.83 747.1 500C747.48 522.17 748.27 515 748.5 518C747.42 521.33 744.33 531.9 742 538C739.67 544.1 738.03 547.6 734.5 554.6C730.97 561.6 727.47 570.55 720.8 580C714.13 589.45 702.38 603.63 694.5 611.3C686.62 618.97 682.25 620.73 673.5 626C664.75 631.27 650.22 639 642 642.9C633.78 646.8 627.17 648.32 624.2 649.4L584.9 649.6Z" fill="rgb(255,153,0)"/>
<path d="M584.9 385L720.2 385C720.08 404.17 719.4 467.5 719.5 500C719.6 532.5 720.58 566.67 720.8 580C714.13 589.45 702.38 603.63 694.5 611.3C686.62 618.97 682.25 620.73 673.5 626C664.75 631.27 650.22 639 642 642.9C633.78 646.8 627.17 648.32 624.2 649.4L584.9 649.6Z" fill="rgb(255,102,0)"/>
<path d="M584.9 385L676.3 385C676.18 404.17 676.07 459.83 675.6 500C675.13 540.17 673.85 605 673.5 626C664.75 631.27 650.22 639 642 642.9C633.78 646.8 627.17 648.32 624.2 649.4L584.9 649.6Z" fill="rgb(255,51,0)"/>
<path d="M584.9 385L627.5 385C627.3 404.17 626.85 455.93 626.3 500C625.75 544.07 624.55 624.5 624.2 649.4L584.9 649.6Z" fill="rgb(255,0,0)"/>
<path d="M748.5 518C750.67 513.33 757.33 499.33 761.5 490C765.67 480.67 770.08 469.33 773.5 462C776.92 454.67 778.75 450.67 782 446C785.25 441.33 789.13 437.1 793 434C796.87 430.9 800.32 428.82 805.2 427.4C810.08 425.98 816.62 424.87 822.3 425.5C827.98 426.13 833.52 427.78 839.3 431.2C845.08 434.62 851.88 441.2 857 446C862.12 450.8 865.35 453.6 870 460C874.65 466.4 881.4 477.73 884.9 484.4C888.4 491.07 888 493.2 891 500C894 506.8 898.82 516.45 902.9 525.2C906.98 533.95 912 542.7 915.5 552.5C919 562.3 921.82 574.55 923.9 584C925.98 593.45 927.65 602.2 928 609.2C928.35 616.2 928.08 621.08 926 626C923.92 630.92 919.7 634.82 915.5 638.7C911.3 642.58 908.38 647.48 900.8 649.3C893.22 651.12 916.1 649.55 870 649.6C823.9 649.65 665.17 649.6 624.2 649.6L624.2 649.4C627.17 648.32 633.78 646.8 642 642.9C650.22 639 664.75 631.27 673.5 626C682.25 620.73 686.62 618.97 694.5 611.3C702.38 603.63 714.13 589.45 720.8 580C727.47 570.55 730.97 561.6 734.5 554.6C738.03 547.6 739.67 544.1 742 538C744.33 531.9 747.42 521.33 748.5 518Z" fill="rgb(51,255,0)"/>
<path d="M748.5 518C750.75 513.33 757.75 499.17 762 490C766.25 480.83 770.5 470 774 463C777.5 456 779.5 452.17 783 448C786.5 443.83 790.03 440.8 795 438C799.97 435.2 807.3 432.02 812.8 431.2C818.3 430.38 822.32 430.88 828 433.1C833.68 435.32 841.22 440.07 846.9 444.5C852.58 448.93 857.92 454 862.1 459.7C866.28 465.4 869.52 471.98 872 478.7C874.48 485.42 875.33 491.28 877 500C878.67 508.72 880.5 520.5 882 531C883.5 541.5 885.67 553.12 886 563C886.33 572.88 886.1 581.9 884 590.3C881.9 598.7 879.37 605.68 873.4 613.4C867.43 621.12 856.6 630.98 848.2 636.6C839.8 642.22 830.7 644.98 823 647.1C815.3 649.22 835.13 648.88 802 649.3C768.87 649.72 653.83 649.55 624.2 649.6L624.2 649.4C627.17 648.32 633.78 646.8 642 642.9C650.22 639 664.75 631.27 673.5 626C682.25 620.73 686.62 618.97 694.5 611.3C702.38 603.63 714.13 589.45 720.8 580C727.47 570.55 730.97 561.6 734.5 554.6C738.03 547.6 739.67 544.1 742 538C744.33 531.9 747.42 521.33 748.5 518Z" fill="rgb(0,255,0)"/>
<path d="M748.5 518C750.83 513.33 758.08 499 762.5 490C766.92 481 771.42 470.67 775 464C778.58 457.33 780.67 453.83 784 450C787.33 446.17 791.47 443.02 795 441C798.53 438.98 800.33 437.63 805.2 437.9C810.07 438.17 818.23 438.92 824.2 442.6C830.17 446.28 836.7 453.77 841 460C845.3 466.23 847.67 473.33 850 480C852.33 486.67 853.02 491.42 855 500C856.98 508.58 860.58 521 861.9 531.5C863.22 542 864.13 552.5 862.9 563C861.67 573.5 859.4 584.7 854.5 594.5C849.6 604.3 842.25 614.43 833.5 621.8C824.75 629.17 812.5 634.48 802 638.7C791.5 642.92 787.5 645.32 770.5 647.1C753.5 648.88 724.38 648.98 700 649.4C675.62 649.82 636.83 649.57 624.2 649.6L624.2 649.4C627.17 648.32 633.78 646.8 642 642.9C650.22 639 664.75 631.27 673.5 626C682.25 620.73 686.62 618.97 694.5 611.3C702.38 603.63 714.13 589.45 720.8 580C727.47 570.55 730.97 561.6 734.5 554.6C738.03 547.6 739.67 544.1 742 538C744.33 531.9 747.42 521.33 748.5 518Z" fill="rgb(0,255,51)"/>
<path d="M748.5 518C750.92 513.33 758.42 499.33 763 490C767.58 480.67 772.83 467.67 776 462C779.17 456.33 779.4 457.28 782 456C784.6 454.72 787.32 453.38 791.6 454.3C795.88 455.22 803.1 457.08 807.7 461.5C812.3 465.92 816.3 474.38 819.2 480.8C822.1 487.22 823.58 493.3 825.1 500C826.62 506.7 828.3 510.5 828.3 521C828.3 531.5 827.73 550.75 825.1 563C822.47 575.25 818.8 585.05 812.5 594.5C806.2 603.95 796.05 613.03 787.3 619.7C778.55 626.37 771.22 630.45 760 634.5C748.78 638.55 733.33 641.75 720 644C706.67 646.25 695.97 647.07 680 648C664.03 648.93 633.5 649.33 624.2 649.6L624.2 649.4C627.17 648.32 633.78 646.8 642 642.9C650.22 639 664.75 631.27 673.5 626C682.25 620.73 686.62 618.97 694.5 611.3C702.38 603.63 714.13 589.45 720.8 580C727.47 570.55 730.97 561.6 734.5 554.6C738.03 547.6 739.67 544.1 742 538C744.33 531.9 747.42 521.33 748.5 518Z" fill="rgb(0,255,102)"/>
<path d="M748.5 518C749.25 516 751.25 509.83 753 506C754.75 502.17 756.53 497.42 759 495C761.47 492.58 765.1 490.58 767.8 491.5C770.5 492.42 773.72 496.42 775.2 500.5C776.68 504.58 776.6 510.83 776.7 516C776.8 521.17 776.53 525.42 775.8 531.5C775.07 537.58 774.28 544.45 772.3 552.5C770.32 560.55 768.12 571.05 763.9 579.8C759.68 588.55 755.07 596.58 747 605C738.93 613.42 727.75 623.63 715.5 630.3C703.25 636.97 687.5 641.8 673.5 645C659.5 648.2 639.72 648.73 631.5 649.5C623.28 650.27 625.42 649.58 624.2 649.6L624.2 649.4C627.17 648.32 633.78 646.8 642 642.9C650.22 639 664.75 631.27 673.5 626C682.25 620.73 686.62 618.97 694.5 611.3C702.38 603.63 714.13 589.45 720.8 580C727.47 570.55 730.97 561.6 734.5 554.6C738.03 547.6 739.67 544.1 742 538C744.33 531.9 747.42 521.33 748.5 518Z" fill="rgb(0,255,153)"/>
<path d="M749 516C749.9 515.65 753 512.77 754.4 513.9C755.8 515.03 757.57 517.42 757.4 522.8C757.23 528.18 755.82 538.45 753.4 546.2C750.98 553.95 748.17 560.9 742.9 569.3C737.63 577.7 730.92 587.85 721.8 596.6C712.68 605.35 699.75 614.43 688.2 621.8C676.65 629.17 663.17 636.17 652.5 640.8C641.83 645.43 628.92 648.13 624.2 649.6L624.2 649.4C627.17 648.32 633.78 646.8 642 642.9C650.22 639 664.75 631.27 673.5 626C682.25 620.73 686.62 618.97 694.5 611.3C702.38 603.63 714.13 589.45 720.8 580C727.47 570.55 730.97 561.6 734.5 554.6C738.03 547.6 739.67 544.1 742 538C744.33 531.9 747.42 521.33 748.5 518Z" fill="rgb(0,255,204)"/>
<path d="M742 538C741.27 541.03 740.68 548.84 737.62 556.18C734.57 563.51 730.44 572.41 723.66 582.02C716.88 591.62 705 605.98 696.94 613.81C688.88 621.64 684.21 623.62 675.3 629C666.4 634.37 652.02 642.66 643.5 646.06C634.98 649.46 627.42 648.84 624.2 649.4C627.17 648.32 633.78 646.8 642 642.9C650.22 639 664.75 631.27 673.5 626C682.25 620.73 686.62 618.97 694.5 611.3C702.38 603.63 714.13 589.45 720.8 580C727.47 570.55 730.97 561.6 734.5 554.6C738.03 547.6 739.67 544.1 742 538Z" fill="rgb(0,255,255)"/>
<path d="M962.5 565C959.22 561.87 948.55 553.53 942.8 546.2C937.05 538.87 933.47 529.53 928 521C922.53 512.47 915.28 502.05 910 495C904.72 487.95 901.12 485.22 896.3 478.7C891.48 472.18 886.17 462.55 881.1 455.9C876.03 449.25 871.6 443.87 865.9 438.8C860.2 433.73 853.22 428.82 846.9 425.5C840.58 422.18 834.32 419.68 828 418.9C821.68 418.12 814.83 419.28 809 420.8C803.17 422.32 797.67 424.13 793 428C788.33 431.87 784.33 438.33 781 444C777.67 449.67 776.33 454.33 773 462C769.67 469.67 765.08 480.67 761 490C756.92 499.33 750.58 513.33 748.5 518M962.5 497C959.3 494.1 949.92 485.82 943.3 479.6C936.68 473.38 930.02 466.5 922.8 459.7C915.58 452.9 908.85 445.13 900 438.8C891.15 432.47 877.6 426.12 869.7 421.7C861.8 417.28 858.93 414.82 852.6 412.3C846.27 409.78 838.97 406.6 831.7 406.6C824.43 406.6 815.45 409.9 809 412.3C802.55 414.7 797.83 416.38 793 421C788.17 425.62 783.5 433.33 780 440C776.5 446.67 775.25 452.67 772 461C768.75 469.33 764.42 480.5 760.5 490C756.58 499.5 750.5 513.33 748.5 518M811.8 385C808.55 388.78 797.1 401.03 792.3 407.7C787.5 414.37 785.47 419.62 783 425C780.53 430.38 779.5 433.83 777.5 440C775.5 446.17 773.92 453.67 771 462C768.08 470.33 763.75 480.67 760 490C756.25 499.33 750.42 513.33 748.5 518M778.5 385C777.22 390.83 773.22 409.83 770.8 420C768.38 430.17 766.23 437.3 764 446C761.77 454.7 759.4 463.7 757.4 472.2C755.4 480.7 753.48 489.37 752 497C750.52 504.63 749.08 514.5 748.5 518M946.5 385C946.75 390.83 947.52 411.35 948 420C948.48 428.65 948.57 431.9 949.4 436.9C950.23 441.9 950.82 446.98 953 450C955.18 453.02 960.92 454.17 962.5 455M746.2 385C746.35 404.17 746.72 477.83 747.1 500C747.48 522.17 748.27 515 748.5 518M720.2 385C720.08 404.17 719.4 467.5 719.5 500C719.6 532.5 720.58 566.67 720.8 580M676.3 385C676.18 404.17 676.07 459.83 675.6 500C675.13 540.17 673.85 605 673.5 626M627.5 385C627.3 404.17 626.85 455.93 626.3 500C625.75 544.07 624.55 624.5 624.2 649.4M748.5 518C750.67 513.33 757.33 499.33 761.5 490C765.67 480.67 770.08 469.33 773.5 462C776.92 454.67 778.75 450.67 782 446C785.25 441.33 789.13 437.1 793 434C796.87 430.9 800.32 428.82 805.2 427.4C810.08 425.98 816.62 424.87 822.3 425.5C827.98 426.13 833.52 427.78 839.3 431.2C845.08 434.62 851.88 441.2 857 446C862.12 450.8 865.35 453.6 870 460C874.65 466.4 881.4 477.73 884.9 484.4C888.4 491.07 888 493.2 891 500C894 506.8 898.82 516.45 902.9 525.2C906.98 533.95 912 542.7 915.5 552.5C919 562.3 921.82 574.55 923.9 584C925.98 593.45 927.65 602.2 928 609.2C928.35 616.2 928.08 621.08 926 626C923.92 630.92 919.7 634.82 915.5 638.7C911.3 642.58 908.38 647.48 900.8 649.3C893.22 651.12 916.1 649.55 870 649.6C823.9 649.65 665.17 649.6 624.2 649.6M748.5 518C750.75 513.33 757.75 499.17 762 490C766.25 480.83 770.5 470 774 463C777.5 456 779.5 452.17 783 448C786.5 443.83 790.03 440.8 795 438C799.97 435.2 807.3 432.02 812.8 431.2C818.3 430.38 822.32 430.88 828 433.1C833.68 435.32 841.22 440.07 846.9 444.5C852.58 448.93 857.92 454 862.1 459.7C866.28 465.4 869.52 471.98 872 478.7C874.48 485.42 875.33 491.28 877 500C878.67 508.72 880.5 520.5 882 531C883.5 541.5 885.67 553.12 886 563C886.33 572.88 886.1 581.9 884 590.3C881.9 598.7 879.37 605.68 873.4 613.4C867.43 621.12 856.6 630.98 848.2 636.6C839.8 642.22 830.7 644.98 823 647.1C815.3 649.22 835.13 648.88 802 649.3C768.87 649.72 653.83 649.55 624.2 649.6M748.5 518C750.83 513.33 758.08 499 762.5 490C766.92 481 771.42 470.67 775 464C778.58 457.33 780.67 453.83 784 450C787.33 446.17 791.47 443.02 795 441C798.53 438.98 800.33 437.63 805.2 437.9C810.07 438.17 818.23 438.92 824.2 442.6C830.17 446.28 836.7 453.77 841 460C845.3 466.23 847.67 473.33 850 480C852.33 486.67 853.02 491.42 855 500C856.98 508.58 860.58 521 861.9 531.5C863.22 542 864.13 552.5 862.9 563C861.67 573.5 859.4 584.7 854.5 594.5C849.6 604.3 842.25 614.43 833.5 621.8C824.75 629.17 812.5 634.48 802 638.7C791.5 642.92 787.5 645.32 770.5 647.1C753.5 648.88 724.38 648.98 700 649.4C675.62 649.82 636.83 649.57 624.2 649.6M748.5 518C750.92 513.33 758.42 499.33 763 490C767.58 480.67 772.83 467.67 776 462C779.17 456.33 779.4 457.28 782 456C784.6 454.72 787.32 453.38 791.6 454.3C795.88 455.22 803.1 457.08 807.7 461.5C812.3 465.92 816.3 474.38 819.2 480.8C822.1 487.22 823.58 493.3 825.1 500C826.62 506.7 828.3 510.5 828.3 521C828.3 531.5 827.73 550.75 825.1 563C822.47 575.25 818.8 585.05 812.5 594.5C806.2 603.95 796.05 613.03 787.3 619.7C778.55 626.37 771.22 630.45 760 634.5C748.78 638.55 733.33 641.75 720 644C706.67 646.25 695.97 647.07 680 648C664.03 648.93 633.5 649.33 624.2 649.6M748.5 518C749.25 516 751.25 509.83 753 506C754.75 502.17 756.53 497.42 759 495C761.47 492.58 765.1 490.58 767.8 491.5C770.5 492.42 773.72 496.42 775.2 500.5C776.68 504.58 776.6 510.83 776.7 516C776.8 521.17 776.53 525.42 775.8 531.5C775.07 537.58 774.28 544.45 772.3 552.5C770.32 560.55 768.12 571.05 763.9 579.8C759.68 588.55 755.07 596.58 747 605C738.93 613.42 727.75 623.63 715.5 630.3C703.25 636.97 687.5 641.8 673.5 645C659.5 648.2 639.72 648.73 631.5 649.5C623.28 650.27 625.42 649.58 624.2 649.6M749 516C749.9 515.65 753 512.77 754.4 513.9C755.8 515.03 757.57 517.42 757.4 522.8C757.23 528.18 755.82 538.45 753.4 546.2C750.98 553.95 748.17 560.9 742.9 569.3C737.63 577.7 730.92 587.85 721.8 596.6C712.68 605.35 699.75 614.43 688.2 621.8C676.65 629.17 663.17 636.17 652.5 640.8C641.83 645.43 628.92 648.13 624.2 649.6M624.2 649.4C627.17 648.32 633.78 646.8 642 642.9C650.22 639 664.75 631.27 673.5 626C682.25 620.73 686.62 618.97 694.5 611.3C702.38 603.63 714.13 589.45 720.8 580C727.47 570.55 730.97 561.6 734.5 554.6C738.03 547.6 739.67 544.1 742 538C744.33 531.9 747.42 521.33 748.5 518" fill="none" stroke="#000" stroke-width="1.3" stroke-linejoin="round"/>
<g transform="rotate(-90 677.3 420.1)"><rect x="661.05" y="412.8" width="32.5" height="14.6" fill="#fff"/><text x="677.3" y="426.4" text-anchor="middle" font-size="18">6.25</text></g>
<g><rect x="702.95" y="407.2" width="32.5" height="14.6" fill="#fff"/><text x="719.2" y="420.8" text-anchor="middle" font-size="18">4.38</text></g>
<g><rect x="757.35" y="396.5" width="32.5" height="14.6" fill="#fff"/><text x="773.6" y="410.1" text-anchor="middle" font-size="18">1.56</text></g>
<g><rect x="865.75" y="423.5" width="32.5" height="14.6" fill="#fff"/><text x="882" y="437.1" text-anchor="middle" font-size="18">1.03</text></g>
<g><rect x="851.15" y="447.2" width="32.5" height="14.6" fill="#fff"/><text x="867.4" y="460.8" text-anchor="middle" font-size="18">1.00</text></g>
<g><rect x="825.05" y="463.7" width="32.5" height="14.6" fill="#fff"/><text x="841.3" y="477.3" text-anchor="middle" font-size="18">0.98</text></g>
<g><rect x="807.75" y="493.2" width="32.5" height="14.6" fill="#fff"/><text x="824" y="506.8" text-anchor="middle" font-size="18">0.95</text></g>
<g><rect x="760.25" y="531" width="32.5" height="14.6" fill="#fff"/><text x="776.5" y="544.6" text-anchor="middle" font-size="18">0.81</text></g>
<g><rect x="724.55" y="569.4" width="32.5" height="14.6" fill="#fff"/><text x="740.8" y="583" text-anchor="middle" font-size="18">0.63</text></g>
<g transform="rotate(-50 707 598)"><rect x="688" y="590.7" width="38" height="14.6" fill="#fff"/><text x="707" y="604.3" text-anchor="middle" font-size="18">-2.19</text></g>
<g transform="rotate(55 913.9 504.5)"><rect x="897.65" y="497.2" width="32.5" height="14.6" fill="#fff"/><text x="913.9" y="510.8" text-anchor="middle" font-size="18">1.01</text></g>
<g transform="rotate(80 881.3 541)"><rect x="865.05" y="533.7" width="32.5" height="14.6" fill="#fff"/><text x="881.3" y="547.3" text-anchor="middle" font-size="18">0.99</text></g>
<g><rect x="897.15" y="557.3" width="32.5" height="14.6" fill="#fff"/><text x="913.4" y="570.9" text-anchor="middle" font-size="18">1.00</text></g>
<path d="M584.9 385H594.4M584.9 419.82H591.4M584.9 454.63H594.4M584.9 489.45H591.4M584.9 524.26H594.4M584.9 559.08H591.4M584.9 593.89H594.4M584.9 628.71H591.4M638.84 649.6V640.1M719.76 649.6V643.1M800.67 649.6V640.1M881.59 649.6V643.1M962.5 649.6V640.1" stroke="#000" stroke-width="1.5" fill="none"/>
<path d="M584.9 384.3V649.6H963.2" fill="none" stroke="#000" stroke-width="1.4"/>
<text x="579" y="391" text-anchor="end" font-size="18" letter-spacing="0.8">2.0</text>
<text x="579" y="461.2" text-anchor="end" font-size="18" letter-spacing="0.8">1.5</text>
<text x="579" y="531.39" text-anchor="end" font-size="18" letter-spacing="0.8">1.0</text>
<text x="579" y="601.59" text-anchor="end" font-size="18" letter-spacing="0.8">0.5</text>
<text x="638.04" y="673.1" text-anchor="middle" font-size="18" letter-spacing="0.8">0.6</text>
<text x="799.87" y="673.1" text-anchor="middle" font-size="18" letter-spacing="0.8">1.2</text>
<text x="961.7" y="673.1" text-anchor="middle" font-size="18" letter-spacing="0.8">1.8</text>
<rect x="943.5" y="437.1" width="24.4" height="198.19" fill="rgb(255,0,0)"/>
<rect x="943.5" y="442.05" width="24.4" height="193.24" fill="rgb(255,51,0)"/>
<rect x="943.5" y="451.96" width="24.4" height="183.33" fill="rgb(255,102,0)"/>
<rect x="943.5" y="461.87" width="24.4" height="173.42" fill="rgb(255,153,0)"/>
<rect x="943.5" y="471.78" width="24.4" height="163.51" fill="rgb(255,204,0)"/>
<rect x="943.5" y="481.69" width="24.4" height="153.6" fill="rgb(255,255,0)"/>
<rect x="943.5" y="491.6" width="24.4" height="143.69" fill="rgb(204,255,0)"/>
<rect x="943.5" y="501.51" width="24.4" height="133.78" fill="rgb(153,255,0)"/>
<rect x="943.5" y="511.42" width="24.4" height="123.87" fill="rgb(102,255,0)"/>
<rect x="943.5" y="521.33" width="24.4" height="113.96" fill="rgb(51,255,0)"/>
<rect x="943.5" y="531.24" width="24.4" height="104.05" fill="rgb(0,255,0)"/>
<rect x="943.5" y="541.15" width="24.4" height="94.14" fill="rgb(0,255,51)"/>
<rect x="943.5" y="551.06" width="24.4" height="84.23" fill="rgb(0,255,102)"/>
<rect x="943.5" y="560.97" width="24.4" height="74.32" fill="rgb(0,255,153)"/>
<rect x="943.5" y="570.88" width="24.4" height="64.41" fill="rgb(0,255,204)"/>
<rect x="943.5" y="580.79" width="24.4" height="54.5" fill="rgb(0,255,255)"/>
<rect x="943.5" y="590.7" width="24.4" height="44.59" fill="rgb(0,204,255)"/>
<rect x="943.5" y="600.61" width="24.4" height="34.68" fill="rgb(0,153,255)"/>
<rect x="943.5" y="610.52" width="24.4" height="24.77" fill="rgb(0,102,255)"/>
<rect x="943.5" y="620.43" width="24.4" height="14.86" fill="rgb(0,51,255)"/>
<rect x="943.5" y="630.34" width="24.4" height="4.95" fill="rgb(0,0,255)"/>
<path d="M943.5 451.96h24.4M943.5 471.78h24.4M943.5 491.6h24.4M943.5 511.42h24.4M943.5 531.24h24.4M943.5 551.06h24.4M943.5 570.88h24.4M943.5 590.7h24.4M943.5 610.52h24.4M943.5 630.34h24.4" stroke="#000" stroke-opacity="0.5" stroke-width="0.8"/>
<text x="985" y="459.56" font-size="18" letter-spacing="0.5">6.25</text>
<text x="985" y="479.38" font-size="18" letter-spacing="0.5">3.44</text>
<text x="985" y="499.2" font-size="18" letter-spacing="0.5">1.08</text>
<text x="985" y="519.02" font-size="18" letter-spacing="0.5">1.01</text>
<text x="985" y="538.84" font-size="18" letter-spacing="0.5">0.99</text>
<text x="985" y="558.66" font-size="18" letter-spacing="0.5">0.95</text>
<text x="985" y="578.48" font-size="18" letter-spacing="0.5">0.63</text>
<text x="985" y="598.3" font-size="18" letter-spacing="0.5">&#8722;1.25</text>
<text x="985" y="618.12" font-size="18" letter-spacing="0.5">&#8722;3.13</text>
<text x="985" y="637.94" font-size="18" letter-spacing="0.5">&#8722;5.00</text>
<text transform="translate(993.6 430.8) scale(1.15 1)" font-size="18.5" font-style="italic">&#915;</text>
<text x="780.2" y="696.8" text-anchor="middle" font-size="19" font-style="italic">T/T<tspan font-size="11" font-style="normal" dx="-0.5" dy="5">c</tspan></text>
<text transform="translate(540.9 517.3) rotate(-90)" text-anchor="middle" font-size="20" font-style="italic">p/p<tspan font-size="9" font-style="normal" dy="4">c</tspan></text>
<text y="727.9" font-size="21.5"><tspan x="713.7">(</tspan><tspan x="722.9">d</tspan><tspan x="734.7">)</tspan><tspan x="749.2" font-style="italic">n</tspan><tspan>-dodecane</tspan></text>
</g>
</svg>
</body></html>
